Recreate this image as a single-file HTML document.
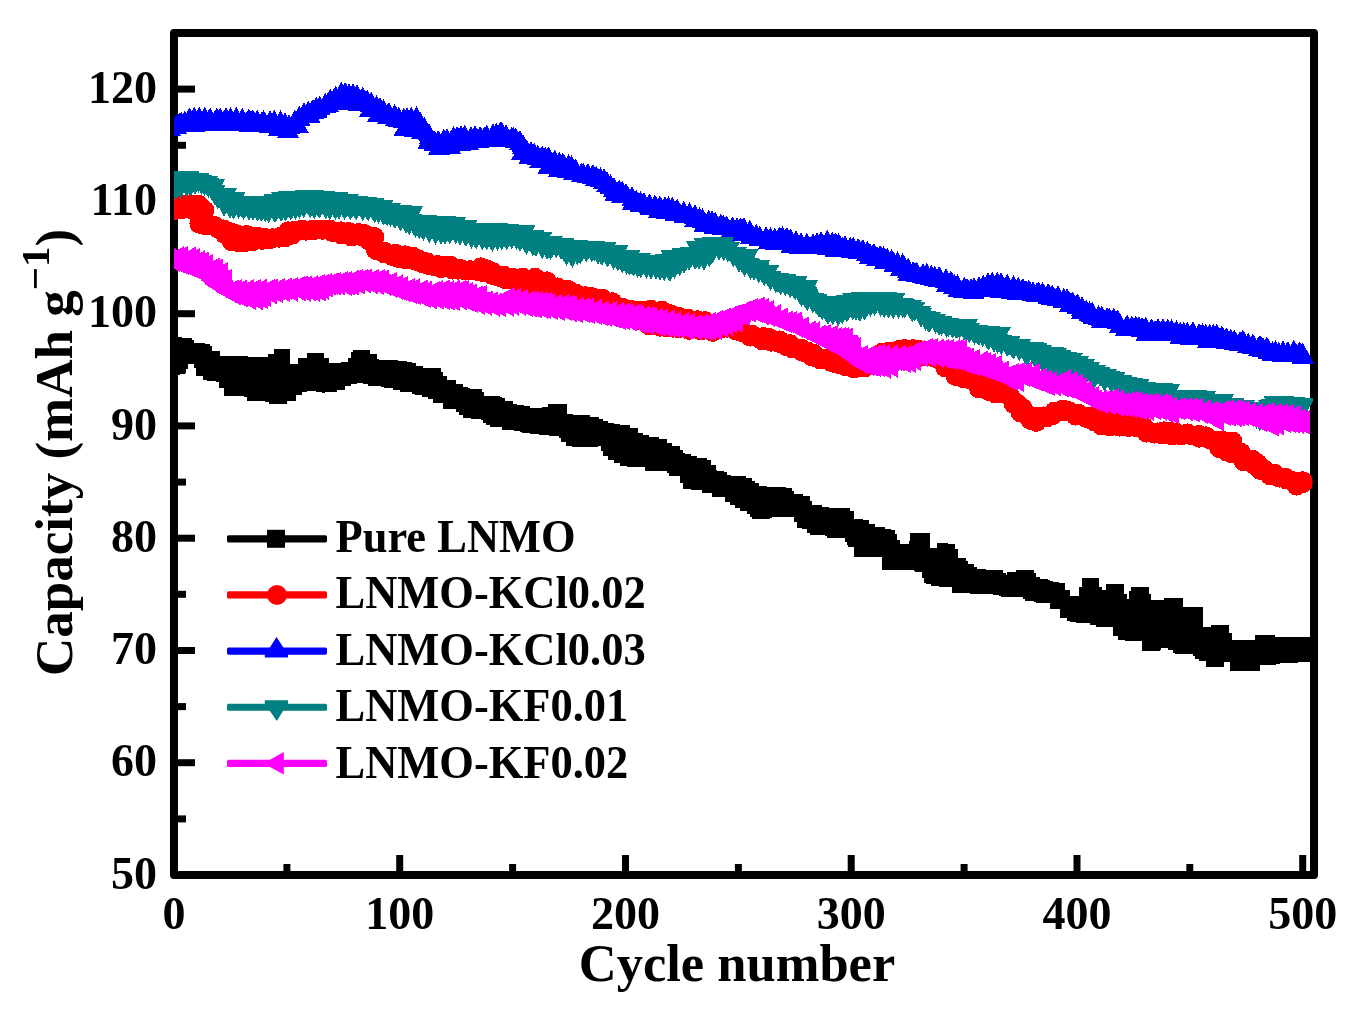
<!DOCTYPE html>
<html><head><meta charset="utf-8"><style>
html,body{margin:0;padding:0;background:#fff;}
svg{display:block;will-change:transform;}
text{font-family:"Liberation Serif",serif;font-weight:bold;fill:#000;}
</style></head><body>
<svg width="1363" height="1017" viewBox="0 0 1363 1017">
<rect x="0" y="0" width="1363" height="1017" fill="#fff"/>
<rect x="174" y="33" width="1140" height="842" fill="none" stroke="#000" stroke-width="8" stroke-linejoin="round"/>
<g stroke="#000" stroke-width="7" stroke-linecap="butt"><line x1="286.9" y1="874" x2="286.9" y2="864" /><line x1="399.7" y1="874" x2="399.7" y2="855" /><line x1="512.6" y1="874" x2="512.6" y2="864" /><line x1="625.5" y1="874" x2="625.5" y2="855" /><line x1="738.4" y1="874" x2="738.4" y2="864" /><line x1="851.2" y1="874" x2="851.2" y2="855" /><line x1="964.1" y1="874" x2="964.1" y2="864" /><line x1="1077.0" y1="874" x2="1077.0" y2="855" /><line x1="1189.8" y1="874" x2="1189.8" y2="864" /><line x1="1302.7" y1="874" x2="1302.7" y2="855" /><line x1="176" y1="818.9" x2="186" y2="818.9" /><line x1="176" y1="762.7" x2="195" y2="762.7" /><line x1="176" y1="706.6" x2="186" y2="706.6" /><line x1="176" y1="650.5" x2="195" y2="650.5" /><line x1="176" y1="594.3" x2="186" y2="594.3" /><line x1="176" y1="538.2" x2="195" y2="538.2" /><line x1="176" y1="482.1" x2="186" y2="482.1" /><line x1="176" y1="425.9" x2="195" y2="425.9" /><line x1="176" y1="369.8" x2="186" y2="369.8" /><line x1="176" y1="313.7" x2="195" y2="313.7" /><line x1="176" y1="257.5" x2="186" y2="257.5" /><line x1="176" y1="201.4" x2="195" y2="201.4" /><line x1="176" y1="145.3" x2="186" y2="145.3" /><line x1="176" y1="89.1" x2="195" y2="89.1" /></g>
<defs><clipPath id="pc"><rect x="174" y="33" width="1144" height="842"/></clipPath></defs>
<g clip-path="url(#pc)" shape-rendering="crispEdges">
<polygon fill="#000000" points="172.0,336.8 174.4,336.8 174.4,337.1 182.0,337.1 182.0,337.6 192.0,337.6 192.0,340.1 194.2,340.1 194.2,343.1 205.4,343.1 205.4,344.2 209.7,344.2 209.7,345.8 212.2,345.8 212.2,350.8 219.6,350.8 219.6,355.6 231.6,355.6 231.6,355.6 233.9,355.6 233.9,355.6 236.6,355.6 236.6,356.1 248.2,356.1 248.2,356.5 251.5,356.5 251.5,356.9 259.6,356.9 259.6,357.4 268.3,357.4 268.3,354.2 273.5,354.2 273.5,348.9 275.7,348.9 275.7,348.9 283.0,348.9 283.0,348.9 290.0,348.9 290.0,363.5 297.8,363.5 297.8,357.8 306.6,357.8 306.6,353.3 317.0,353.3 317.0,353.3 324.2,353.3 324.2,358.3 328.6,358.3 328.6,363.2 330.0,363.2 330.0,362.9 341.3,362.9 341.3,362.4 348.4,362.4 348.4,358.2 351.3,358.2 351.3,352.1 352.8,352.1 352.8,350.0 364.2,350.0 364.2,350.0 370.4,350.0 370.4,353.9 377.2,353.9 377.2,358.8 379.2,358.8 379.2,360.0 387.1,360.0 387.1,360.0 390.3,360.0 390.3,360.1 392.5,360.1 392.5,360.4 397.8,360.4 397.8,361.2 406.9,361.2 406.9,361.9 412.3,361.9 412.3,363.0 415.6,363.0 415.6,365.7 423.3,365.7 423.3,367.7 427.9,367.7 427.9,367.7 438.0,367.7 438.0,367.7 440.9,367.7 440.9,371.5 443.1,371.5 443.1,376.4 447.1,376.4 447.1,379.6 456.1,379.6 456.1,383.5 463.1,383.5 463.1,386.5 468.1,386.5 468.1,388.1 470.0,388.1 470.0,388.7 474.7,388.7 474.7,388.8 482.0,388.8 482.0,392.3 484.2,392.3 484.2,395.8 491.8,395.8 491.8,396.3 499.8,396.3 499.8,396.6 501.9,396.6 501.9,397.5 504.8,397.5 504.8,400.8 512.9,400.8 512.9,403.6 516.5,403.6 516.5,404.6 522.7,404.6 522.7,405.3 523.9,405.3 523.9,406.0 529.8,406.0 529.8,407.7 541.5,407.7 541.5,406.6 548.1,406.6 548.1,404.4 551.0,404.4 551.0,404.4 562.7,404.4 562.7,404.4 566.8,404.4 566.8,414.4 572.8,414.4 572.8,414.8 583.8,414.8 583.8,415.2 589.5,415.2 589.5,416.8 598.8,416.8 598.8,419.1 603.2,419.1 603.2,420.7 607.9,420.7 607.9,422.9 614.2,422.9 614.2,424.4 619.9,424.4 619.9,424.9 627.8,424.9 627.8,425.2 629.6,425.2 629.6,428.3 637.5,428.3 637.5,432.6 643.0,432.6 643.0,435.0 649.4,435.0 649.4,436.5 651.1,436.5 651.1,437.3 658.7,437.3 658.7,438.6 664.9,438.6 664.9,439.4 667.0,439.4 667.0,442.9 671.5,442.9 671.5,446.2 676.4,446.2 676.4,446.2 680.3,446.2 680.3,449.5 682.5,449.5 682.5,453.1 684.5,453.1 684.5,454.2 691.3,454.2 691.3,455.9 697.3,455.9 697.3,458.0 707.0,458.0 707.0,460.0 711.1,460.0 711.1,464.9 715.5,464.9 715.5,469.5 716.9,469.5 716.9,470.6 724.3,470.6 724.3,472.4 727.0,472.4 727.0,474.6 730.9,474.6 730.9,475.9 737.4,475.9 737.4,475.9 743.6,475.9 743.6,475.9 746.3,475.9 746.3,477.7 752.1,477.7 752.1,480.5 755.1,480.5 755.1,483.2 759.0,483.2 759.0,486.1 767.2,486.1 767.2,486.5 773.0,486.5 773.0,486.8 774.2,486.8 774.2,487.2 785.8,487.2 785.8,487.7 791.9,487.7 791.9,490.7 794.0,490.7 794.0,494.4 802.9,494.4 802.9,496.0 809.5,496.0 809.5,500.6 811.7,500.6 811.7,505.4 822.2,505.4 822.2,507.1 829.3,507.1 829.3,507.8 832.5,507.8 832.5,507.8 838.6,507.8 838.6,507.8 850.4,507.8 850.4,510.5 853.5,510.5 853.5,518.7 862.9,518.7 862.9,520.3 868.9,520.3 868.9,523.6 875.1,523.6 875.1,527.4 884.7,527.4 884.7,529.2 890.9,529.2 890.9,530.4 895.4,530.4 895.4,533.7 897.4,533.7 897.4,539.7 899.8,539.7 899.8,543.5 908.6,543.5 908.6,541.0 909.8,541.0 909.8,533.1 919.2,533.1 919.2,533.1 925.7,533.1 925.7,533.1 929.5,533.1 929.5,547.5 937.2,547.5 937.2,543.3 947.9,543.3 947.9,543.9 954.9,543.9 954.9,548.9 957.5,548.9 957.5,558.1 965.5,558.1 965.5,561.0 968.1,561.0 968.1,563.9 973.8,563.9 973.8,567.2 976.9,567.2 976.9,568.5 980.7,568.5 980.7,568.9 986.0,568.9 986.0,569.6 998.0,569.6 998.0,570.3 1003.3,570.3 1003.3,572.7 1005.5,572.7 1005.5,574.6 1006.7,574.6 1006.7,572.0 1016.1,572.0 1016.1,569.6 1023.7,569.6 1023.7,570.2 1034.1,570.2 1034.1,573.3 1036.3,573.3 1036.3,576.6 1039.9,576.6 1039.9,578.5 1047.9,578.5 1047.9,580.1 1050.0,580.1 1050.0,580.8 1053.1,580.8 1053.1,581.9 1059.1,581.9 1059.1,583.4 1065.2,583.4 1065.2,590.2 1069.7,590.2 1069.7,596.2 1071.8,596.2 1071.8,596.2 1078.5,596.2 1078.5,586.9 1081.8,586.9 1081.8,577.5 1090.5,577.5 1090.5,577.5 1099.4,577.5 1099.4,586.9 1101.6,586.9 1101.6,590.2 1106.0,590.2 1106.0,584.1 1111.7,584.1 1111.7,584.1 1119.5,584.1 1119.5,584.1 1123.6,584.1 1123.6,593.5 1126.9,593.5 1126.9,598.9 1129.2,598.9 1129.2,591.2 1131.3,591.2 1131.3,587.4 1139.7,587.4 1139.7,587.4 1147.5,587.4 1147.5,587.4 1148.9,587.4 1148.9,593.5 1151.2,593.5 1151.2,599.5 1156.6,599.5 1156.6,599.5 1164.4,599.5 1164.4,598.4 1167.8,598.4 1167.8,598.4 1180.0,598.4 1180.0,598.4 1183.1,598.4 1183.1,607.2 1186.2,607.2 1186.2,607.2 1198.7,607.2 1198.7,607.2 1202.9,607.2 1202.9,626.8 1210.6,626.8 1210.6,624.8 1214.8,624.8 1214.8,624.8 1226.3,624.8 1226.3,624.8 1229.3,624.8 1229.3,632.6 1231.5,632.6 1231.5,640.3 1240.7,640.3 1240.7,640.3 1252.2,640.3 1252.2,640.3 1254.7,640.3 1254.7,634.8 1257.3,634.8 1257.3,634.8 1267.4,634.8 1267.4,634.8 1274.5,634.8 1274.5,637.0 1278.7,637.0 1278.7,637.0 1287.8,637.0 1287.8,637.0 1298.6,637.0 1298.6,637.0 1305.4,637.0 1305.4,637.0 1309.7,637.0 1310.0,661.9 1303.8,661.9 1303.8,661.9 1297.6,661.9 1297.6,663.0 1295.8,663.0 1295.8,663.0 1287.8,663.0 1287.8,663.0 1280.0,663.0 1280.0,664.3 1276.1,664.3 1276.1,665.2 1265.8,665.2 1265.8,665.2 1259.8,665.2 1259.8,670.7 1251.7,670.7 1251.7,670.7 1245.9,670.7 1245.9,670.7 1235.6,670.7 1235.6,670.7 1230.4,670.7 1230.4,661.9 1227.0,661.9 1227.0,661.9 1223.8,661.9 1223.8,667.4 1220.0,667.4 1220.0,667.4 1211.9,667.4 1211.9,667.4 1206.2,667.4 1206.2,660.9 1199.4,660.9 1199.4,659.2 1195.2,659.2 1195.2,656.4 1193.0,656.4 1193.0,654.2 1189.9,654.2 1189.9,654.2 1183.2,654.2 1183.2,654.2 1175.4,654.2 1175.4,653.2 1172.9,653.2 1172.9,650.0 1167.7,650.0 1167.7,648.0 1161.4,648.0 1161.4,649.8 1160.0,649.8 1160.0,650.9 1149.3,650.9 1149.3,650.9 1142.3,650.9 1142.3,641.0 1137.3,641.0 1137.3,641.0 1126.6,641.0 1126.6,641.0 1124.7,641.0 1124.7,639.9 1118.1,639.9 1118.1,636.0 1112.6,636.0 1112.6,626.7 1107.5,626.7 1107.5,626.7 1095.9,626.7 1095.9,625.0 1089.5,625.0 1089.5,623.2 1085.9,623.2 1085.9,622.5 1075.6,622.5 1075.6,621.7 1069.8,621.7 1069.8,621.3 1067.4,621.3 1067.4,617.5 1060.0,617.5 1060.0,608.8 1049.8,608.8 1049.8,603.4 1040.2,603.4 1040.2,602.7 1036.3,602.7 1036.3,602.2 1033.7,602.2 1033.7,601.1 1025.3,601.1 1025.3,598.6 1023.1,598.6 1023.1,597.0 1021.6,597.0 1021.6,597.0 1010.5,597.0 1010.5,597.0 1004.5,597.0 1004.5,597.0 1001.1,597.0 1001.1,595.9 998.9,595.9 998.9,594.6 993.1,594.6 993.1,594.3 981.2,594.3 981.2,593.9 973.7,593.9 973.7,593.7 970.3,593.7 970.3,593.4 962.3,593.4 962.3,592.8 952.3,592.8 952.3,586.9 946.4,586.9 946.4,586.5 938.8,586.5 938.8,586.1 932.8,586.1 932.8,585.6 931.1,585.6 931.1,584.3 925.7,584.3 925.7,583.0 924.0,583.0 924.0,577.7 921.8,577.7 921.8,571.6 915.2,571.6 915.2,570.5 913.9,570.5 913.9,570.3 901.2,570.3 901.2,569.9 889.8,569.9 889.8,569.6 884.5,569.6 884.5,569.5 882.2,569.5 882.2,557.3 874.9,557.3 874.9,557.3 868.3,557.3 868.3,557.3 858.5,557.3 858.5,557.3 853.5,557.3 853.5,546.5 848.2,546.5 848.2,545.4 846.9,545.4 846.9,541.9 844.7,541.9 844.7,538.3 836.7,538.3 836.7,537.8 827.1,537.8 827.1,536.4 824.9,536.4 824.9,535.3 814.9,535.3 814.9,535.3 809.5,535.3 809.5,532.5 807.3,532.5 807.3,529.2 802.2,529.2 802.2,528.1 797.4,528.1 797.4,522.1 794.0,522.1 794.0,516.6 791.8,516.6 791.8,516.6 785.5,516.6 785.5,516.6 775.8,516.6 775.8,516.6 772.0,516.6 772.0,517.7 769.8,517.7 769.8,518.8 760.9,518.8 760.9,518.8 754.4,518.8 754.4,518.8 752.2,518.8 752.2,516.6 750.0,516.6 750.0,513.6 747.4,513.6 747.4,511.0 740.4,511.0 740.4,507.6 735.2,507.6 735.2,504.7 730.0,504.7 730.0,501.8 724.6,501.8 724.6,496.9 712.3,496.9 712.3,492.6 702.3,492.6 702.3,490.4 691.1,490.4 691.1,488.8 682.5,488.8 682.5,482.5 679.7,482.5 679.7,476.3 669.2,476.3 669.2,473.0 667.4,473.0 667.4,471.4 664.9,471.4 664.9,470.5 661.5,470.5 661.5,471.0 650.6,471.0 650.6,471.4 645.0,471.4 645.0,467.1 639.1,467.1 639.1,467.1 627.4,467.1 627.4,465.5 619.7,465.5 619.7,462.8 614.2,462.8 614.2,459.7 607.7,459.7 607.7,456.4 603.2,456.4 603.2,450.6 601.0,450.6 601.0,446.3 597.6,446.3 597.6,446.5 587.6,446.5 587.6,446.9 578.9,446.9 578.9,447.2 572.3,447.2 572.3,445.5 566.2,445.5 566.2,442.2 561.3,442.2 561.3,438.1 558.7,438.1 558.7,436.0 548.5,436.0 548.5,435.4 541.5,435.4 541.5,435.0 538.7,435.0 538.7,434.0 529.9,434.0 529.9,432.6 521.7,432.6 521.7,431.8 520.0,431.8 520.0,431.1 514.1,431.1 514.1,429.6 501.9,429.6 501.9,426.9 490.1,426.9 490.1,424.7 486.4,424.7 486.4,422.7 483.4,422.7 483.4,419.9 480.9,419.9 480.9,418.6 478.0,418.6 478.0,418.5 471.4,418.5 471.4,418.3 470.0,418.3 470.0,418.3 463.2,418.3 463.2,415.1 458.6,415.1 458.6,412.2 455.5,412.2 455.5,408.8 442.8,408.8 442.8,403.1 432.7,403.1 432.7,398.8 427.7,398.8 427.7,396.7 422.0,396.7 422.0,395.0 414.5,395.0 414.5,393.7 411.6,393.7 411.6,391.9 400.1,391.9 400.1,389.9 393.1,389.9 393.1,388.4 383.7,388.4 383.7,387.3 380.5,387.3 380.5,386.4 371.4,386.4 371.4,385.5 368.2,385.5 368.2,384.0 362.9,384.0 362.9,383.4 357.4,383.4 357.4,383.9 350.6,383.9 350.6,385.8 345.0,385.8 345.0,389.9 336.7,389.9 336.7,392.4 324.6,392.4 324.6,392.9 322.0,392.9 322.0,392.4 316.2,392.4 316.2,391.3 311.0,391.3 311.0,391.1 306.6,391.1 306.6,391.6 302.2,391.6 302.2,394.5 295.6,394.5 295.6,400.5 286.7,400.5 286.7,404.0 283.5,404.0 283.5,404.0 274.3,404.0 274.3,404.0 269.1,404.0 269.1,402.4 264.7,402.4 264.7,400.7 252.3,400.7 252.3,400.7 247.1,400.7 247.1,397.4 243.8,397.4 243.8,396.3 231.2,396.3 231.2,396.3 224.0,396.3 224.0,388.0 218.5,388.0 218.5,381.8 216.3,381.8 216.3,381.0 206.7,381.0 206.7,380.0 203.0,380.0 203.0,375.9 196.4,375.9 196.4,368.0 194.1,368.0 194.1,364.4 187.6,364.4 187.6,368.8 185.4,368.8 185.4,373.7 179.9,373.7 179.9,374.8 174.4,374.8 174.4,375.4 172.0,375.4"/><path fill="#000000" d=""/>
<polygon fill="#ff0000" points="172,203.4 174,203.4 176,203.3 178,203.1 180,203 182,202.9 184,202.8 186,202.6 188,202.5 190,202.4 192,202.3 194,202.4 196,202.6 198,202.7 200,202.9 202,203 204,203.2 206,203.3 208,212.2 210,221.1 212,222 214,222.8 216,223.6 218,224.5 220,225.3 222,226.1 224,227 226,227.8 228,228.6 230,229.5 232,230.3 234,231.1 236,232 238,232.3 240,232.5 242,232.8 244,233.1 246,233.4 248,233.7 250,233.9 252,234.2 254,234.5 256,234.8 258,235 260,235.3 262,235.6 264,235.9 266,236.2 268,236.4 270,236.7 272,237 274,237.3 276,237.3 278,235.5 280,233.8 282,232 284,230.3 286,229.7 288,229.6 290,229.5 292,229.4 294,229.3 296,229.2 298,229 300,228.9 302,228.8 304,228.7 306,228.6 308,228.5 310,228.4 312,228.3 314,228.2 316,228 318,227.9 320,227.8 322,227.7 324,227.6 326,227.8 328,228 330,228.2 332,228.4 334,228.6 336,228.8 338,229 340,229.2 342,229.4 344,229.6 346,229.8 348,230 350,230.2 352,230.4 354,230.6 356,230.8 358,231 360,231.2 362,231.4 364,231.6 366,231.8 368,232 370,232.7 372,233.5 374,234.3 376,235.1 378,235.9 380,240.9 382,249.7 384,250 386,250.3 388,250.6 390,250.8 392,251.1 394,251.4 396,251.7 398,252 400,252.3 402,252.6 404,252.8 406,253.1 408,253.4 410,253.7 412,254 414,254.7 416,255.5 418,256.3 420,257.1 422,257.9 424,258.7 426,259.5 428,260.3 430,261.1 432,261.9 434,262.7 436,263 438,263.2 440,263.4 442,263.6 444,263.8 446,264 448,264.2 450,264.4 452,264.6 454,264.8 456,265 458,265.6 460,266.2 462,266.9 464,267.5 466,268.2 468,268.8 470,269.4 472,268.4 474,267.4 476,266.3 478,265.3 480,264.2 482,263.2 484,264.4 486,265.6 488,266.8 490,268 492,269.2 494,270.1 496,270.7 498,271.3 500,271.9 502,272.5 504,273.1 506,273.7 508,274.3 510,274.9 512,275.5 514,276.1 516,276.3 518,276.2 520,276 522,275.9 524,275.8 526,275.6 528,275.5 530,275.3 532,275.6 534,276 536,276.3 538,276.7 540,277.1 542,277.5 544,277.8 546,278.2 548,278.6 550,280 552,281.5 554,283 556,284.5 558,285.4 560,285.7 562,286.1 564,286.4 566,286.7 568,287.1 570,287.4 572,288.5 574,289.7 576,290.9 578,292.1 580,293.3 582,294.1 584,294.3 586,294.5 588,294.7 590,294.9 592,295.1 594,295.3 596,295.5 598,295.7 600,295.9 602,296.1 604,296.6 606,297.4 608,298.2 610,299 612,299.8 614,300.6 616,301.5 618,302.5 620,303.5 622,304.5 624,305.5 626,306.4 628,307 630,307.6 632,308.2 634,308.8 636,309.4 638,309.3 640,309.2 642,309 644,308.9 646,308.7 648,308.6 650,308.5 652,308.3 654,308.3 656,308.3 658,308.3 660,308.3 662,308.3 664,308.8 666,309.6 668,310.3 670,311.1 672,311.8 674,312.6 676,313.3 678,314.1 680,314.8 682,315.3 684,315.7 686,316.1 688,316.5 690,316.9 692,317.3 694,317.6 696,317.9 698,318.2 700,318.5 702,318.8 704,319.1 706,319.4 708,319.7 710,320 712,320.3 714,320.7 716,321.3 718,322 720,322.6 722,323.2 724,323.9 726,324.5 728,325.1 730,325.8 732,326.4 734,327.1 736,327.7 738,328.3 740,329 742,329.6 744,330.3 746,330.9 748,331.5 750,332.2 752,332.6 754,333 756,333.4 758,333.8 760,334.2 762,334.6 764,335 766,335.4 768,335.8 770,336.2 772,336.6 774,337 776,337.4 778,337.8 780,338.2 782,338.6 784,339.2 786,340 788,340.8 790,341.6 792,342.4 794,343.2 796,344 798,344.8 800,345.6 802,346.4 804,347.2 806,348 808,348.8 810,349.6 812,350.4 814,351.2 816,352 818,352.9 820,353.8 822,354.7 824,355.6 826,356.5 828,357.4 830,358.3 832,359.2 834,360.1 836,361 838,361.9 840,362.4 842,362.9 844,363.4 846,363.9 848,364.4 850,364.9 852,365.4 854,365.9 856,366.4 858,366.9 860,367.2 862,365.4 864,363.2 866,361.1 868,358.9 870,356.7 872,354.6 874,353 876,352.5 878,352.1 880,351.6 882,351.2 884,350.7 886,350.3 888,349.8 890,349.4 892,349 894,348.5 896,348.1 898,347.7 900,347.3 902,347.3 904,347.4 906,347.4 908,347.5 910,347.5 912,347.6 914,347.6 916,347.7 918,347.7 920,347.8 922,347.8 924,348 926,348.8 928,349.5 930,350.2 932,351 934,351.8 936,352.5 938,353.2 940,354 942,354.8 944,355.5 946,356.2 948,357.1 950,358.1 952,359.1 954,360.1 956,361.1 958,362.1 960,363.1 962,364.1 964,365.1 966,366.1 968,367.1 970,368.1 972,369.1 974,370.1 976,371.1 978,372.1 980,373.1 982,374.1 984,375.1 986,376.1 988,377.1 990,378.1 992,379.1 994,380.1 996,381.6 998,383.3 1000,385 1002,386.6 1004,388.3 1006,390 1008,391.6 1010,393.3 1012,395 1014,396.6 1016,398.3 1018,400 1020,401.6 1022,403.3 1024,405 1026,406.6 1028,408.3 1030,410 1032,412 1034,414 1036,415.7 1038,415.4 1040,415.2 1042,414.9 1044,414.7 1046,413.8 1048,412.2 1050,410.6 1052,409.6 1054,409.2 1056,408.8 1058,408.4 1060,408 1062,407.7 1064,407.8 1066,408.2 1068,408.6 1070,409 1072,409.4 1074,409.8 1076,410.6 1078,411.4 1080,412.2 1082,413 1084,413.8 1086,414.7 1088,415.7 1090,416.7 1092,417.7 1094,418.4 1096,418.9 1098,419.5 1100,420.1 1102,420.7 1104,421.3 1106,421.9 1108,422.3 1110,422.4 1112,422.5 1114,422.6 1116,422.7 1118,422.8 1120,423.2 1122,423.5 1124,423.9 1126,424.2 1128,424.6 1130,424.9 1132,425.2 1134,425.2 1136,425.2 1138,425.2 1140,425.2 1142,426.4 1144,427.6 1146,428.9 1148,430.1 1150,431.4 1152,431.1 1154,430.8 1156,430.5 1158,430.2 1160,429.9 1162,429.6 1164,429.6 1166,429.8 1168,430 1170,430.2 1172,430.3 1174,430.5 1176,430.7 1178,430.9 1180,431 1182,431.2 1184,431.4 1186,431.7 1188,431.9 1190,432.2 1192,432.4 1194,432.7 1196,432.9 1198,433.2 1200,433.5 1202,433.7 1204,434 1206,434.3 1208,434.5 1210,434.8 1212,435.1 1214,435.8 1216,436.7 1218,437.6 1220,438.5 1222,439.4 1224,440.1 1226,440 1228,439.9 1230,439.8 1232,439.7 1234,439.6 1236,439.5 1238,442.1 1240,448.9 1242,449.9 1244,450.9 1246,451.9 1248,452.9 1250,454 1252,455.6 1254,457.2 1256,458.8 1258,460.4 1260,462 1262,463.6 1264,465.2 1266,466.8 1268,468.4 1270,469 1272,469.2 1274,470.4 1276,471.7 1278,472.9 1280,474.2 1282,475.5 1284,476.6 1286,477.2 1288,477.8 1290,478.4 1292,479 1294,479.6 1296,479.7 1298,479.7 1300,479.7 1300,487.5 1298,488.5 1296,489.5 1294,490 1292,488 1290,486 1288,484 1286,482 1284,480 1282,479 1280,478.6 1278,478.2 1276,477.8 1274,477.4 1272,477.1 1270,476.9 1268,476.7 1266,476.5 1264,476.3 1262,476.1 1260,474.7 1258,472.7 1256,470.7 1254,468.7 1252,466.7 1250,464.9 1248,464.5 1246,464.1 1244,463.7 1242,463.3 1240,462.9 1238,461.9 1236,460.5 1234,459.1 1232,457.7 1230,456.2 1228,454.9 1226,453.9 1224,452.9 1222,451.9 1220,450.9 1218,450.2 1216,449.5 1214,448.8 1212,447.9 1210,445.5 1208,443.1 1206,440.8 1204,440.4 1202,440 1200,439.6 1198,439.2 1196,438.8 1194,438.4 1192,438 1190,437.6 1188,437.2 1186,437.1 1184,437.1 1182,437.1 1180,437.1 1178,437.1 1176,437.1 1174,437.1 1172,437.1 1170,436.9 1168,436.7 1166,436.4 1164,436.2 1162,436 1160,435.7 1158,435.5 1156,435.3 1154,435 1152,434.8 1150,434.6 1148,433.3 1146,432 1144,430.7 1142,429.4 1140,428.1 1138,427.4 1136,426.7 1134,426 1132,425.3 1130,424.9 1128,424.6 1126,424.2 1124,423.9 1122,423.5 1120,423.2 1118,422.8 1116,422.7 1114,422.6 1112,422.5 1110,422.4 1108,422.3 1106,421.9 1104,421.3 1102,420.7 1100,420.1 1098,419.5 1096,418.9 1094,418.4 1092,418.2 1090,418.2 1088,418.2 1086,418.2 1084,418.2 1082,418.2 1080,418.2 1078,418.2 1076,418.2 1074,418.2 1072,417 1070,415.8 1068,414.6 1066,413.4 1064,412.2 1062,412.5 1060,414.2 1058,415.3 1056,416.4 1054,417.4 1052,418.2 1050,418.8 1048,419.4 1046,420.1 1044,420.7 1042,421.8 1040,423 1038,424.1 1036,425.2 1034,424.6 1032,423.6 1030,422.6 1028,421.6 1026,420.2 1024,418.7 1022,417.2 1020,415.7 1018,414.2 1016,411.7 1014,409.2 1012,406.7 1010,404.2 1008,401.1 1006,396.5 1004,394.2 1002,394.4 1000,394.6 998,394.8 996,395 994,395.2 992,395.3 990,394.3 988,393.3 986,392.3 984,391.3 982,390.5 980,390.3 978,390 976,389.8 974,389.5 972,386.7 970,382.1 968,380.9 966,380.6 964,380.3 962,380 960,379.7 958,379.4 956,379.1 954,378.6 952,377.1 950,375.6 948,374.1 946,372.6 944,370.7 942,368.2 940,365.7 938,363.2 936,360.7 934,359.5 932,358.8 930,358.1 928,357.7 926,358.3 924,358.5 922,358.8 920,359.1 918,359.3 916,359.6 914,359.9 912,360.1 910,360.4 908,360.7 906,360.9 904,361.2 902,361.5 900,361.7 898,362 896,362.3 894,362.5 892,362.9 890,363.4 888,363.9 886,364.4 884,364.9 882,365.4 880,365.9 878,366.4 876,366.9 874,367.4 872,367.9 870,368 868,367.8 866,367.6 864,367.4 862,367.2 860,367.2 858,366.9 856,366.8 854,366.7 852,366.6 850,366.5 848,366.4 846,366.3 844,366.2 842,366.1 840,366 838,365.9 836,365.4 834,364.9 832,364.4 830,363.9 828,363.4 826,362.9 824,362.4 822,361.9 820,361.4 818,360.9 816,360.4 814,359.6 812,358.8 810,358 808,357.2 806,356.4 804,355.6 802,354.8 800,354 798,353.2 796,352.4 794,351.6 792,350.8 790,350 788,349.2 786,348.4 784,347.6 782,346.8 780,346 778,345.2 776,344.4 774,343.6 772,342.8 770,342.8 768,342.7 766,342.7 764,342.6 762,342.5 760,342.5 758,341.9 756,341.2 754,340.6 752,339.9 750,339.3 748,338.6 746,337.8 744,336.2 742,334.6 740,333 738,331.4 736,329.8 734,329.3 732,329.3 730,329.3 728,329.3 726,329.3 724,329.5 722,330.7 720,332 718,333.2 716,334.5 714,334.5 712,334.2 710,333.9 708,333.5 706,333.2 704,332.9 702,332.6 700,332.4 698,332.2 696,332 694,331.8 692,331.6 690,331.4 688,331.2 686,331 684,330.8 682,330.6 680,330.4 678,330.2 676,330 674,329.8 672,329.6 670,329.4 668,329.2 666,329 664,328.8 662,328.6 660,328.4 658,328.2 656,328 654,327.8 652,327.6 650,327.4 648,327.2 646,326.6 644,325.8 642,325 640,324.2 638,323.4 636,322.6 634,321.8 632,321 630,320.2 628,319.4 626,318.6 624,317.9 622,317.2 620,316.5 618,315.9 616,315.2 614,314.5 612,313.9 610,313.2 608,312.5 606,311.9 604,311.2 602,310.5 600,309.9 598,309.2 596,308.5 594,307.9 592,307.2 590,306.6 588,306 586,305.4 584,304.8 582,304.2 580,303.6 578,303 576,302.4 574,301.8 572,301.2 570,300.6 568,300 566,299.4 564,298.8 562,298.2 560,297.6 558,297 556,296.4 554,295.8 552,295.2 550,294.6 548,294 546,293.4 544,292.8 542,292.2 540,291.6 538,291 536,290.4 534,289.8 532,289.2 530,288.6 528,288 526,287.4 524,286.8 522,286.2 520,285.6 518,285 516,284.4 514,283.8 512,283.2 510,282.6 508,282 506,281.4 504,280.8 502,280.2 500,279.7 498,279.1 496,278.6 494,278 492,277.4 490,276.9 488,276.3 486,275.8 484,275.2 482,274.6 480,274.1 478,273.5 476,272.9 474,272.4 472,271.8 470,271.3 468,271.3 466,271.3 464,271.3 462,271.3 460,271.3 458,271.3 456,271.2 454,271 452,270.8 450,270.6 448,270.4 446,270.2 444,270 442,269.8 440,269.6 438,269.4 436,269.2 434,269 432,268.4 430,267.8 428,267.2 426,266.6 424,266 422,265.4 420,264.8 418,264.2 416,263.6 414,263 412,262.4 410,262 408,261.6 406,261.2 404,260.8 402,260.4 400,260 398,259.6 396,259.2 394,258.8 392,258.4 390,257.9 388,257.2 386,256.4 384,255.7 382,254.9 380,254.2 378,253.4 376,252.7 374,251.9 372,250.5 370,247.5 368,244.5 366,241.5 364,238.5 362,238.2 360,238.2 358,238.2 356,238.2 354,238.2 352,238.2 350,238.2 348,238.2 346,238.2 344,237.6 342,237 340,236.4 338,235.8 336,235.2 334,234.6 332,234 330,233.4 328,232.8 326,232.2 324,231.6 322,231.6 320,231.6 318,231.6 316,231.6 314,231.6 312,231.6 310,231.6 308,231.6 306,231.6 304,231.6 302,231.7 300,232.9 298,234.1 296,235.3 294,236.5 292,237.7 290,238.3 288,238.5 286,238.7 284,238.9 282,239.1 280,239.3 278,239.5 276,239.7 274,239.9 272,240.1 270,240.3 268,240.7 266,241.1 264,241.5 262,241.9 260,242.3 258,242.7 256,243.1 254,243.5 252,243.9 250,244.3 248,244.7 246,244.7 244,244.5 242,244.3 240,244 238,243.8 236,243.6 234,243.4 232,243.2 230,242.9 228,242.7 226,240.9 224,238.1 222,235.4 220,232.6 218,230.4 216,229.9 214,229.4 212,228.9 210,228.4 208,227.9 206,227.4 204,226.9 202,226.4 200,225.9 198,225.4 196,223.5 194,216.5 192,209.6 190,209.8 188,210.1 186,210.3 184,210.6 182,210.8 180,211.1 178,211.3 176,211.6 174,211.8 172,211.8"/><path fill="#ff0000" d="M160 205.1a10 10 0 1 0 20 0a10 10 0 1 0 -20 0zM166.5 205.2a10 10 0 1 0 20 0a10 10 0 1 0 -20 0zM173.2 204.8a10 10 0 1 0 20 0a10 10 0 1 0 -20 0zM180.5 204.2a10 10 0 1 0 20 0a10 10 0 1 0 -20 0zM188.7 204.9a10 10 0 1 0 20 0a10 10 0 1 0 -20 0zM194.3 210.2a10 10 0 1 0 20 0a10 10 0 1 0 -20 0zM204.6 226a10 10 0 1 0 20 0a10 10 0 1 0 -20 0zM213.6 229.4a10 10 0 1 0 20 0a10 10 0 1 0 -20 0zM220.7 232.2a10 10 0 1 0 20 0a10 10 0 1 0 -20 0zM226.3 234.2a10 10 0 1 0 20 0a10 10 0 1 0 -20 0zM236.6 235a10 10 0 1 0 20 0a10 10 0 1 0 -20 0zM242.5 236.6a10 10 0 1 0 20 0a10 10 0 1 0 -20 0zM248.5 237.1a10 10 0 1 0 20 0a10 10 0 1 0 -20 0zM254.4 237.7a10 10 0 1 0 20 0a10 10 0 1 0 -20 0zM260 239.1a10 10 0 1 0 20 0a10 10 0 1 0 -20 0zM271.3 236.4a10 10 0 1 0 20 0a10 10 0 1 0 -20 0zM278.2 231.3a10 10 0 1 0 20 0a10 10 0 1 0 -20 0zM285.3 230.5a10 10 0 1 0 20 0a10 10 0 1 0 -20 0zM296.2 230.7a10 10 0 1 0 20 0a10 10 0 1 0 -20 0zM305.5 229.8a10 10 0 1 0 20 0a10 10 0 1 0 -20 0zM311.8 229.7a10 10 0 1 0 20 0a10 10 0 1 0 -20 0zM319.9 229.7a10 10 0 1 0 20 0a10 10 0 1 0 -20 0zM331 231.4a10 10 0 1 0 20 0a10 10 0 1 0 -20 0zM338.7 232a10 10 0 1 0 20 0a10 10 0 1 0 -20 0zM348.6 233a10 10 0 1 0 20 0a10 10 0 1 0 -20 0zM354.3 233.9a10 10 0 1 0 20 0a10 10 0 1 0 -20 0zM364.4 237.1a10 10 0 1 0 20 0a10 10 0 1 0 -20 0zM374.9 251.9a10 10 0 1 0 20 0a10 10 0 1 0 -20 0zM385.6 253.8a10 10 0 1 0 20 0a10 10 0 1 0 -20 0zM395.4 255.3a10 10 0 1 0 20 0a10 10 0 1 0 -20 0zM402.9 256.8a10 10 0 1 0 20 0a10 10 0 1 0 -20 0zM408.4 259.3a10 10 0 1 0 20 0a10 10 0 1 0 -20 0zM417 262.3a10 10 0 1 0 20 0a10 10 0 1 0 -20 0zM427.3 265a10 10 0 1 0 20 0a10 10 0 1 0 -20 0zM433.7 265.8a10 10 0 1 0 20 0a10 10 0 1 0 -20 0zM440.5 265.8a10 10 0 1 0 20 0a10 10 0 1 0 -20 0zM449.3 268.7a10 10 0 1 0 20 0a10 10 0 1 0 -20 0zM459.5 270.3a10 10 0 1 0 20 0a10 10 0 1 0 -20 0zM470.8 267.3a10 10 0 1 0 20 0a10 10 0 1 0 -20 0zM476.7 269.2a10 10 0 1 0 20 0a10 10 0 1 0 -20 0zM483 272.1a10 10 0 1 0 20 0a10 10 0 1 0 -20 0zM493.6 275.6a10 10 0 1 0 20 0a10 10 0 1 0 -20 0zM503.1 277.9a10 10 0 1 0 20 0a10 10 0 1 0 -20 0zM513.1 277.8a10 10 0 1 0 20 0a10 10 0 1 0 -20 0zM525.1 277.8a10 10 0 1 0 20 0a10 10 0 1 0 -20 0zM536.7 281.3a10 10 0 1 0 20 0a10 10 0 1 0 -20 0zM547.6 287.4a10 10 0 1 0 20 0a10 10 0 1 0 -20 0zM558 289.9a10 10 0 1 0 20 0a10 10 0 1 0 -20 0zM565.8 293.6a10 10 0 1 0 20 0a10 10 0 1 0 -20 0zM575.3 296.2a10 10 0 1 0 20 0a10 10 0 1 0 -20 0zM581.6 297a10 10 0 1 0 20 0a10 10 0 1 0 -20 0zM591.9 298.5a10 10 0 1 0 20 0a10 10 0 1 0 -20 0zM602.2 302.2a10 10 0 1 0 20 0a10 10 0 1 0 -20 0zM612.2 307.7a10 10 0 1 0 20 0a10 10 0 1 0 -20 0zM620.3 309.8a10 10 0 1 0 20 0a10 10 0 1 0 -20 0zM628 310.5a10 10 0 1 0 20 0a10 10 0 1 0 -20 0zM635.9 310.8a10 10 0 1 0 20 0a10 10 0 1 0 -20 0zM641.2 309.8a10 10 0 1 0 20 0a10 10 0 1 0 -20 0zM652.1 310.7a10 10 0 1 0 20 0a10 10 0 1 0 -20 0zM660.9 314.3a10 10 0 1 0 20 0a10 10 0 1 0 -20 0zM668.6 316.9a10 10 0 1 0 20 0a10 10 0 1 0 -20 0zM677.4 318.5a10 10 0 1 0 20 0a10 10 0 1 0 -20 0zM687.5 320.3a10 10 0 1 0 20 0a10 10 0 1 0 -20 0zM695.1 321.1a10 10 0 1 0 20 0a10 10 0 1 0 -20 0zM706 323.9a10 10 0 1 0 20 0a10 10 0 1 0 -20 0zM717.4 327.7a10 10 0 1 0 20 0a10 10 0 1 0 -20 0zM725.1 330a10 10 0 1 0 20 0a10 10 0 1 0 -20 0zM731.1 331.9a10 10 0 1 0 20 0a10 10 0 1 0 -20 0zM741.4 334.5a10 10 0 1 0 20 0a10 10 0 1 0 -20 0zM753.3 337a10 10 0 1 0 20 0a10 10 0 1 0 -20 0zM759.4 338a10 10 0 1 0 20 0a10 10 0 1 0 -20 0zM769.4 340.4a10 10 0 1 0 20 0a10 10 0 1 0 -20 0zM780.1 344.2a10 10 0 1 0 20 0a10 10 0 1 0 -20 0zM791.6 348.9a10 10 0 1 0 20 0a10 10 0 1 0 -20 0zM797.4 351.5a10 10 0 1 0 20 0a10 10 0 1 0 -20 0zM803.1 353.5a10 10 0 1 0 20 0a10 10 0 1 0 -20 0zM815 358.7a10 10 0 1 0 20 0a10 10 0 1 0 -20 0zM820.8 361.8a10 10 0 1 0 20 0a10 10 0 1 0 -20 0zM827.1 363.8a10 10 0 1 0 20 0a10 10 0 1 0 -20 0zM836.1 366.5a10 10 0 1 0 20 0a10 10 0 1 0 -20 0zM844.2 368.5a10 10 0 1 0 20 0a10 10 0 1 0 -20 0zM854.5 367.4a10 10 0 1 0 20 0a10 10 0 1 0 -20 0zM860.8 360.8a10 10 0 1 0 20 0a10 10 0 1 0 -20 0zM872.2 352.8a10 10 0 1 0 20 0a10 10 0 1 0 -20 0zM878.7 351.7a10 10 0 1 0 20 0a10 10 0 1 0 -20 0zM889.1 349.9a10 10 0 1 0 20 0a10 10 0 1 0 -20 0zM894.6 349a10 10 0 1 0 20 0a10 10 0 1 0 -20 0zM902.9 349.2a10 10 0 1 0 20 0a10 10 0 1 0 -20 0zM908.1 349.5a10 10 0 1 0 20 0a10 10 0 1 0 -20 0zM915.3 351.3a10 10 0 1 0 20 0a10 10 0 1 0 -20 0zM922.5 353.9a10 10 0 1 0 20 0a10 10 0 1 0 -20 0zM932.5 357.5a10 10 0 1 0 20 0a10 10 0 1 0 -20 0zM940.7 361.1a10 10 0 1 0 20 0a10 10 0 1 0 -20 0zM946.1 364a10 10 0 1 0 20 0a10 10 0 1 0 -20 0zM958.1 369.9a10 10 0 1 0 20 0a10 10 0 1 0 -20 0zM969.3 375.7a10 10 0 1 0 20 0a10 10 0 1 0 -20 0zM980.7 382a10 10 0 1 0 20 0a10 10 0 1 0 -20 0zM987.4 386.7a10 10 0 1 0 20 0a10 10 0 1 0 -20 0zM995.2 393.3a10 10 0 1 0 20 0a10 10 0 1 0 -20 0zM1001.8 398.7a10 10 0 1 0 20 0a10 10 0 1 0 -20 0zM1007.7 403.8a10 10 0 1 0 20 0a10 10 0 1 0 -20 0zM1012.9 408.5a10 10 0 1 0 20 0a10 10 0 1 0 -20 0zM1021.4 416.3a10 10 0 1 0 20 0a10 10 0 1 0 -20 0zM1027.3 416.9a10 10 0 1 0 20 0a10 10 0 1 0 -20 0zM1033.5 416.4a10 10 0 1 0 20 0a10 10 0 1 0 -20 0zM1044.5 411.6a10 10 0 1 0 20 0a10 10 0 1 0 -20 0zM1052.9 409.7a10 10 0 1 0 20 0a10 10 0 1 0 -20 0zM1059.2 411.1a10 10 0 1 0 20 0a10 10 0 1 0 -20 0zM1068.9 414a10 10 0 1 0 20 0a10 10 0 1 0 -20 0zM1075.8 417.9a10 10 0 1 0 20 0a10 10 0 1 0 -20 0zM1084.5 421.7a10 10 0 1 0 20 0a10 10 0 1 0 -20 0zM1091.4 425.4a10 10 0 1 0 20 0a10 10 0 1 0 -20 0zM1100.1 426.4a10 10 0 1 0 20 0a10 10 0 1 0 -20 0zM1109.5 426.6a10 10 0 1 0 20 0a10 10 0 1 0 -20 0zM1118.2 427a10 10 0 1 0 20 0a10 10 0 1 0 -20 0zM1126 427a10 10 0 1 0 20 0a10 10 0 1 0 -20 0zM1136.5 432.5a10 10 0 1 0 20 0a10 10 0 1 0 -20 0zM1147.6 432.4a10 10 0 1 0 20 0a10 10 0 1 0 -20 0zM1153.9 431.3a10 10 0 1 0 20 0a10 10 0 1 0 -20 0zM1159.8 431.8a10 10 0 1 0 20 0a10 10 0 1 0 -20 0zM1165.6 432.5a10 10 0 1 0 20 0a10 10 0 1 0 -20 0zM1177.5 433.4a10 10 0 1 0 20 0a10 10 0 1 0 -20 0zM1189.1 435a10 10 0 1 0 20 0a10 10 0 1 0 -20 0zM1195.7 436.3a10 10 0 1 0 20 0a10 10 0 1 0 -20 0zM1207.5 440.5a10 10 0 1 0 20 0a10 10 0 1 0 -20 0zM1213.9 441.1a10 10 0 1 0 20 0a10 10 0 1 0 -20 0zM1222.5 441.6a10 10 0 1 0 20 0a10 10 0 1 0 -20 0zM1231 452.7a10 10 0 1 0 20 0a10 10 0 1 0 -20 0zM1242.4 459.7a10 10 0 1 0 20 0a10 10 0 1 0 -20 0zM1247.6 463.6a10 10 0 1 0 20 0a10 10 0 1 0 -20 0zM1254.9 470a10 10 0 1 0 20 0a10 10 0 1 0 -20 0zM1264.1 473.6a10 10 0 1 0 20 0a10 10 0 1 0 -20 0zM1269.5 477.5a10 10 0 1 0 20 0a10 10 0 1 0 -20 0zM1276.2 479.5a10 10 0 1 0 20 0a10 10 0 1 0 -20 0zM1284.4 481.3a10 10 0 1 0 20 0a10 10 0 1 0 -20 0zM1292.6 481.2a10 10 0 1 0 20 0a10 10 0 1 0 -20 0zM163 210.3a10 10 0 1 0 20 0a10 10 0 1 0 -20 0zM171.3 209.2a10 10 0 1 0 20 0a10 10 0 1 0 -20 0zM180 208.8a10 10 0 1 0 20 0a10 10 0 1 0 -20 0zM189.4 223.8a10 10 0 1 0 20 0a10 10 0 1 0 -20 0zM195.8 225.3a10 10 0 1 0 20 0a10 10 0 1 0 -20 0zM207.6 228.4a10 10 0 1 0 20 0a10 10 0 1 0 -20 0zM214.6 233.8a10 10 0 1 0 20 0a10 10 0 1 0 -20 0zM221.7 241.3a10 10 0 1 0 20 0a10 10 0 1 0 -20 0zM228.5 242.3a10 10 0 1 0 20 0a10 10 0 1 0 -20 0zM234 242.4a10 10 0 1 0 20 0a10 10 0 1 0 -20 0zM242 241.3a10 10 0 1 0 20 0a10 10 0 1 0 -20 0zM252.4 239.9a10 10 0 1 0 20 0a10 10 0 1 0 -20 0zM262.3 238.2a10 10 0 1 0 20 0a10 10 0 1 0 -20 0zM268.7 237.7a10 10 0 1 0 20 0a10 10 0 1 0 -20 0zM274.7 237.5a10 10 0 1 0 20 0a10 10 0 1 0 -20 0zM281.9 234.8a10 10 0 1 0 20 0a10 10 0 1 0 -20 0zM292.3 229.7a10 10 0 1 0 20 0a10 10 0 1 0 -20 0zM300.7 230.1a10 10 0 1 0 20 0a10 10 0 1 0 -20 0zM312.2 229.8a10 10 0 1 0 20 0a10 10 0 1 0 -20 0zM321.8 231.9a10 10 0 1 0 20 0a10 10 0 1 0 -20 0zM331.1 234.2a10 10 0 1 0 20 0a10 10 0 1 0 -20 0zM341.5 236.4a10 10 0 1 0 20 0a10 10 0 1 0 -20 0zM351.7 236.4a10 10 0 1 0 20 0a10 10 0 1 0 -20 0zM359.2 240.7a10 10 0 1 0 20 0a10 10 0 1 0 -20 0zM366 250a10 10 0 1 0 20 0a10 10 0 1 0 -20 0zM374 253.2a10 10 0 1 0 20 0a10 10 0 1 0 -20 0zM382.4 256a10 10 0 1 0 20 0a10 10 0 1 0 -20 0zM388.4 258a10 10 0 1 0 20 0a10 10 0 1 0 -20 0zM396.5 259.4a10 10 0 1 0 20 0a10 10 0 1 0 -20 0zM406 260.9a10 10 0 1 0 20 0a10 10 0 1 0 -20 0zM412 263a10 10 0 1 0 20 0a10 10 0 1 0 -20 0zM417.9 264.8a10 10 0 1 0 20 0a10 10 0 1 0 -20 0zM424.1 266.1a10 10 0 1 0 20 0a10 10 0 1 0 -20 0zM431.1 268.1a10 10 0 1 0 20 0a10 10 0 1 0 -20 0zM442.8 269.6a10 10 0 1 0 20 0a10 10 0 1 0 -20 0zM448 269.7a10 10 0 1 0 20 0a10 10 0 1 0 -20 0zM454.3 270.1a10 10 0 1 0 20 0a10 10 0 1 0 -20 0zM460.5 270.2a10 10 0 1 0 20 0a10 10 0 1 0 -20 0zM468.8 271.3a10 10 0 1 0 20 0a10 10 0 1 0 -20 0zM473.9 272.4a10 10 0 1 0 20 0a10 10 0 1 0 -20 0zM482.1 275a10 10 0 1 0 20 0a10 10 0 1 0 -20 0zM488.2 276.7a10 10 0 1 0 20 0a10 10 0 1 0 -20 0zM495.1 279a10 10 0 1 0 20 0a10 10 0 1 0 -20 0zM505.7 281.8a10 10 0 1 0 20 0a10 10 0 1 0 -20 0zM512 283.5a10 10 0 1 0 20 0a10 10 0 1 0 -20 0zM521.3 286.5a10 10 0 1 0 20 0a10 10 0 1 0 -20 0zM529.1 288.6a10 10 0 1 0 20 0a10 10 0 1 0 -20 0zM537.1 291.3a10 10 0 1 0 20 0a10 10 0 1 0 -20 0zM547.8 294.8a10 10 0 1 0 20 0a10 10 0 1 0 -20 0zM553.9 296.3a10 10 0 1 0 20 0a10 10 0 1 0 -20 0zM565.4 299.8a10 10 0 1 0 20 0a10 10 0 1 0 -20 0zM576.6 303.5a10 10 0 1 0 20 0a10 10 0 1 0 -20 0zM586.3 306a10 10 0 1 0 20 0a10 10 0 1 0 -20 0zM591.6 307.6a10 10 0 1 0 20 0a10 10 0 1 0 -20 0zM601.3 311.5a10 10 0 1 0 20 0a10 10 0 1 0 -20 0zM610.5 314.2a10 10 0 1 0 20 0a10 10 0 1 0 -20 0zM620.9 317.6a10 10 0 1 0 20 0a10 10 0 1 0 -20 0zM627.4 320.5a10 10 0 1 0 20 0a10 10 0 1 0 -20 0zM639.1 325.3a10 10 0 1 0 20 0a10 10 0 1 0 -20 0zM650.3 326.7a10 10 0 1 0 20 0a10 10 0 1 0 -20 0zM656.1 327.1a10 10 0 1 0 20 0a10 10 0 1 0 -20 0zM663.3 327.7a10 10 0 1 0 20 0a10 10 0 1 0 -20 0zM668.5 328.3a10 10 0 1 0 20 0a10 10 0 1 0 -20 0zM679.3 329.9a10 10 0 1 0 20 0a10 10 0 1 0 -20 0zM690.7 330.3a10 10 0 1 0 20 0a10 10 0 1 0 -20 0zM702.7 331.9a10 10 0 1 0 20 0a10 10 0 1 0 -20 0zM711.9 328.2a10 10 0 1 0 20 0a10 10 0 1 0 -20 0zM721.6 328a10 10 0 1 0 20 0a10 10 0 1 0 -20 0zM731.3 330.5a10 10 0 1 0 20 0a10 10 0 1 0 -20 0zM740.3 336.6a10 10 0 1 0 20 0a10 10 0 1 0 -20 0zM752 340.3a10 10 0 1 0 20 0a10 10 0 1 0 -20 0zM761.3 341.7a10 10 0 1 0 20 0a10 10 0 1 0 -20 0zM768.6 342.9a10 10 0 1 0 20 0a10 10 0 1 0 -20 0zM777.2 346.5a10 10 0 1 0 20 0a10 10 0 1 0 -20 0zM782.3 348.3a10 10 0 1 0 20 0a10 10 0 1 0 -20 0zM792.4 351.8a10 10 0 1 0 20 0a10 10 0 1 0 -20 0zM802.3 356.6a10 10 0 1 0 20 0a10 10 0 1 0 -20 0zM810.2 359.5a10 10 0 1 0 20 0a10 10 0 1 0 -20 0zM821.2 362a10 10 0 1 0 20 0a10 10 0 1 0 -20 0zM831.5 364.4a10 10 0 1 0 20 0a10 10 0 1 0 -20 0zM838.8 364.6a10 10 0 1 0 20 0a10 10 0 1 0 -20 0zM844.4 365.2a10 10 0 1 0 20 0a10 10 0 1 0 -20 0zM850.3 365.8a10 10 0 1 0 20 0a10 10 0 1 0 -20 0zM856.6 366a10 10 0 1 0 20 0a10 10 0 1 0 -20 0zM863.7 364.8a10 10 0 1 0 20 0a10 10 0 1 0 -20 0zM871.8 363a10 10 0 1 0 20 0a10 10 0 1 0 -20 0zM883.3 361.1a10 10 0 1 0 20 0a10 10 0 1 0 -20 0zM890.3 359.5a10 10 0 1 0 20 0a10 10 0 1 0 -20 0zM901.6 358.5a10 10 0 1 0 20 0a10 10 0 1 0 -20 0zM911.3 356.7a10 10 0 1 0 20 0a10 10 0 1 0 -20 0zM922.3 356.9a10 10 0 1 0 20 0a10 10 0 1 0 -20 0zM930.1 360.2a10 10 0 1 0 20 0a10 10 0 1 0 -20 0zM935.1 367.2a10 10 0 1 0 20 0a10 10 0 1 0 -20 0zM945.7 376.1a10 10 0 1 0 20 0a10 10 0 1 0 -20 0zM952.4 377.9a10 10 0 1 0 20 0a10 10 0 1 0 -20 0zM958.4 379a10 10 0 1 0 20 0a10 10 0 1 0 -20 0zM969 388.6a10 10 0 1 0 20 0a10 10 0 1 0 -20 0zM978.8 391.1a10 10 0 1 0 20 0a10 10 0 1 0 -20 0zM985.3 393.5a10 10 0 1 0 20 0a10 10 0 1 0 -20 0zM992.1 393.4a10 10 0 1 0 20 0a10 10 0 1 0 -20 0zM1003.7 403.9a10 10 0 1 0 20 0a10 10 0 1 0 -20 0zM1010.6 412.6a10 10 0 1 0 20 0a10 10 0 1 0 -20 0zM1020.5 419.9a10 10 0 1 0 20 0a10 10 0 1 0 -20 0zM1026.4 421.9a10 10 0 1 0 20 0a10 10 0 1 0 -20 0zM1037.1 417.2a10 10 0 1 0 20 0a10 10 0 1 0 -20 0zM1042.9 415.1a10 10 0 1 0 20 0a10 10 0 1 0 -20 0zM1051.6 411.5a10 10 0 1 0 20 0a10 10 0 1 0 -20 0zM1056.8 410.7a10 10 0 1 0 20 0a10 10 0 1 0 -20 0zM1065.6 415.6a10 10 0 1 0 20 0a10 10 0 1 0 -20 0zM1076.6 417a10 10 0 1 0 20 0a10 10 0 1 0 -20 0zM1082.2 416.8a10 10 0 1 0 20 0a10 10 0 1 0 -20 0zM1089.1 416.5a10 10 0 1 0 20 0a10 10 0 1 0 -20 0zM1099.4 417.9a10 10 0 1 0 20 0a10 10 0 1 0 -20 0zM1108.7 418.3a10 10 0 1 0 20 0a10 10 0 1 0 -20 0zM1115.9 420.2a10 10 0 1 0 20 0a10 10 0 1 0 -20 0zM1125.3 424.1a10 10 0 1 0 20 0a10 10 0 1 0 -20 0zM1133.5 426.6a10 10 0 1 0 20 0a10 10 0 1 0 -20 0zM1144.5 433.5a10 10 0 1 0 20 0a10 10 0 1 0 -20 0zM1151.6 434.4a10 10 0 1 0 20 0a10 10 0 1 0 -20 0zM1161.9 435.3a10 10 0 1 0 20 0a10 10 0 1 0 -20 0zM1171.3 435.5a10 10 0 1 0 20 0a10 10 0 1 0 -20 0zM1181.5 435.3a10 10 0 1 0 20 0a10 10 0 1 0 -20 0zM1189.1 437.7a10 10 0 1 0 20 0a10 10 0 1 0 -20 0zM1199.2 439.2a10 10 0 1 0 20 0a10 10 0 1 0 -20 0zM1209.1 448.1a10 10 0 1 0 20 0a10 10 0 1 0 -20 0zM1216.8 451.6a10 10 0 1 0 20 0a10 10 0 1 0 -20 0zM1222 453.6a10 10 0 1 0 20 0a10 10 0 1 0 -20 0zM1233.7 461.4a10 10 0 1 0 20 0a10 10 0 1 0 -20 0zM1243.7 464.3a10 10 0 1 0 20 0a10 10 0 1 0 -20 0zM1250.2 470a10 10 0 1 0 20 0a10 10 0 1 0 -20 0zM1260.3 475.5a10 10 0 1 0 20 0a10 10 0 1 0 -20 0zM1267.2 476.4a10 10 0 1 0 20 0a10 10 0 1 0 -20 0zM1275.5 477.8a10 10 0 1 0 20 0a10 10 0 1 0 -20 0zM1286.5 485.7a10 10 0 1 0 20 0a10 10 0 1 0 -20 0zM1292.6 483.2a10 10 0 1 0 20 0a10 10 0 1 0 -20 0z"/>
<polygon fill="#0000ff" points="172,126.1 174,126.1 176,125.3 178,124.3 180,123.3 182,122.3 184,121.3 186,120.3 188,119.3 190,118.3 192,117.3 194,117.4 196,117.5 198,117.6 200,117.7 202,117.8 204,117.9 206,118 208,118.1 210,118.2 212,118.3 214,118.4 216,118.3 218,118.2 220,118.1 222,118 224,117.9 226,117.8 228,117.7 230,117.6 232,117.5 234,117.4 236,117.3 238,117.5 240,117.8 242,118.1 244,118.4 246,118.7 248,119 250,119.3 252,119.6 254,119.9 256,120.2 258,120.5 260,120.6 262,120.6 264,120.6 266,120.6 268,120.6 270,120.6 272,120.6 274,120.6 276,120.6 278,120.6 280,120.6 282,121.5 284,122.5 286,123.5 288,124.5 290,124.1 292,122.4 294,120.8 296,119.1 298,117.4 300,115.8 302,114.1 304,113.1 306,112.2 308,111.3 310,110.4 312,109.5 314,108.6 316,107.7 318,106.8 320,105.9 322,105 324,104.1 326,102.8 328,101.4 330,100 332,98.7 334,97.3 336,95.9 338,94.5 340,93.2 342,92 344,92.3 346,92.7 348,93.1 350,93.5 352,93.8 354,94.2 356,94.6 358,95 360,95.6 362,96.8 364,98 366,99.2 368,100.5 370,101.7 372,102.9 374,104.1 376,105.4 378,106.6 380,107.7 382,108.7 384,109.7 386,110.7 388,111.7 390,112.7 392,113.7 394,114.7 396,115.7 398,116.7 400,117.7 402,118.3 404,118.2 406,118 408,117.9 410,117.7 412,117.6 414,117.4 416,117.3 418,119 420,121.8 422,124.5 424,127.3 426,130 428,132.8 430,135.5 432,138.3 434,141 436,141.1 438,140.6 440,140.1 442,139.6 444,139.1 446,138.6 448,138.1 450,137.6 452,137.1 454,136.8 456,136.6 458,136.3 460,136.1 462,135.9 464,135.6 466,135.4 468,135.1 470,134.9 472,136.3 474,136.3 476,136.3 478,136.3 480,136.3 482,136.3 484,135.9 486,135.5 488,135.1 490,134.7 492,134.3 494,133.8 496,133 498,132.3 500,131.5 502,132 504,133.3 506,134.5 508,135.8 510,137 512,137.8 514,138.3 516,138.8 518,139.3 520,140.4 522,143.4 524,146.4 526,149.4 528,150.5 530,151.5 532,152.5 534,153.5 536,154.5 538,155.2 540,155.6 542,156 544,156.4 546,156.8 548,157.2 550,158 552,158.9 554,159.7 556,160.5 558,161.4 560,162.2 562,162.9 564,163.4 566,163.9 568,164.4 570,164.9 572,166.3 574,167.7 576,169.1 578,170.5 580,171.9 582,172.8 584,173 586,173.2 588,173.4 590,173.6 592,173.8 594,174.7 596,175.7 598,176.7 600,177.7 602,178.7 604,179.9 606,181.5 608,183.1 610,184.7 612,186.3 614,187.9 616,188.8 618,189.6 620,190.4 622,191.2 624,192 626,193.1 628,194.5 630,195.9 632,197.3 634,198.7 636,200.1 638,200.7 640,201.3 642,201.9 644,202.5 646,203.1 648,203.7 650,204.1 652,204.5 654,204.9 656,205.3 658,205.7 660,205.9 662,206.1 664,206.3 666,206.5 668,206.7 670,207 672,207.6 674,208.2 676,208.8 678,209.4 680,210 682,210.6 684,211.2 686,211.8 688,212.4 690,213 692,213.8 694,214.8 696,215.8 698,216.8 700,217.8 702,218.8 704,219.3 706,219.7 708,220.1 710,220.5 712,220.9 714,221.4 716,222.2 718,223 720,223.8 722,224.6 724,225.4 726,225.9 728,226.3 730,226.7 732,227.1 734,227.5 736,227.7 738,227.7 740,227.7 742,227.7 744,227.7 746,227.7 748,228.8 750,230.1 752,231.4 754,232.7 756,234 758,235.3 760,236.6 762,236.4 764,236.8 766,237.2 768,237.6 770,238 772,238.4 774,238 776,237.6 778,237.3 780,236.9 782,236.5 784,236.2 786,237 788,237.9 790,238.8 792,239.6 794,240.5 796,241.1 798,241.7 800,242.3 802,242.9 804,243.5 806,243.8 808,243.6 810,243.4 812,243.2 814,243 816,242.8 818,242.4 820,242 822,241.6 824,241.2 826,240.8 828,240.8 830,241.4 832,242 834,242.6 836,243.2 838,243.8 840,244.4 842,245 844,245.6 846,246.2 848,246.8 850,247.3 852,247.6 854,247.9 856,248.2 858,248.4 860,248.7 862,249 864,249.3 866,250.1 868,251.1 870,252.1 872,253.1 874,253.9 876,254.4 878,254.9 880,255.4 882,255.9 884,256.7 886,257.5 888,258.3 890,259.1 892,259.9 894,260.6 896,261.2 898,261.8 900,262.4 902,263 904,263.6 906,265.8 908,268.1 910,270.5 912,271.7 914,272.1 916,272.5 918,272.9 920,273.4 922,273.8 924,274.2 926,274.7 928,275.1 930,275.5 932,275.9 934,276.3 936,276.7 938,277.1 940,277.5 942,277.9 944,278.3 946,278.7 948,279.1 950,280.5 952,282.1 954,283.7 956,285.3 958,286.9 960,288 962,288.2 964,288.4 966,288.6 968,288.8 970,289 972,288.5 974,287.9 976,287.3 978,286.7 980,286.1 982,285.5 984,284.8 986,284.1 988,283.5 990,282.8 992,282.1 994,281.5 996,281.6 998,282.1 1000,282.5 1002,283 1004,283.4 1006,283.9 1008,284.3 1010,284.8 1012,285.2 1014,285.6 1016,286.3 1018,286.9 1020,287.6 1022,288.3 1024,288.9 1026,289.6 1028,290.2 1030,290.7 1032,291.2 1034,291.7 1036,292.2 1038,292.5 1040,292.6 1042,292.8 1044,292.9 1046,293.1 1048,293.3 1050,293.4 1052,295 1054,295.5 1056,296 1058,296.5 1060,297 1062,297.5 1064,298 1066,298.7 1068,299.5 1070,300.3 1072,301.1 1074,301.9 1076,302.7 1078,304.1 1080,305.6 1082,307.1 1084,308.6 1086,309.9 1088,311.1 1090,312.3 1092,313.5 1094,314.7 1096,315.9 1098,316.2 1100,316.5 1102,316.7 1104,317 1106,317.2 1108,317.5 1110,317.7 1112,318 1114,318.4 1116,320.2 1118,321.9 1120,323.7 1122,325.4 1124,326 1126,326.1 1128,326.2 1130,326.4 1132,326.5 1134,326.6 1136,326.7 1138,326.9 1140,327 1142,327.3 1144,327.6 1146,328 1148,328.3 1150,328.6 1152,329 1154,329.1 1156,328.9 1158,328.6 1160,328.4 1162,328.1 1164,328.5 1166,328.9 1168,329.3 1170,329.7 1172,330.1 1174,330.5 1176,330.9 1178,331.3 1180,331.7 1182,332.1 1184,332.5 1186,332.5 1188,332.5 1190,332.5 1192,332.5 1194,332.5 1196,332.7 1198,333.1 1200,333.5 1202,333.9 1204,334.3 1206,334.7 1208,334.5 1210,334.3 1212,334.1 1214,333.9 1216,333.7 1218,334 1220,335 1222,336 1224,337 1226,338 1228,339 1230,339.5 1232,339.9 1234,340.3 1236,340.7 1238,341.1 1240,341.5 1242,341.9 1244,342.3 1246,342.7 1248,343.1 1250,343.5 1252,344 1254,344.6 1256,345.2 1258,345.8 1260,346.4 1262,347.1 1264,347.9 1266,348.7 1268,349.5 1270,350.3 1272,351.1 1274,351.4 1276,351.6 1278,351.8 1280,352 1282,352.2 1284,352.2 1286,351.8 1288,351.4 1290,351 1292,350.6 1294,350.2 1296,350.7 1298,351.5 1300,352.2 1300,355.4 1298,355.4 1296,355.4 1294,355.4 1292,355.4 1290,355.4 1288,353.1 1286,353 1284,352.8 1282,352.7 1280,352.5 1278,352.4 1276,352.3 1274,352.1 1272,352 1270,351.8 1268,351.7 1266,351.5 1264,351.4 1262,351.3 1260,351.1 1258,347.7 1256,347.5 1254,347.4 1252,347.2 1250,347.1 1248,346.9 1246,346.8 1244,346.7 1242,345 1240,343 1238,342.1 1236,341.9 1234,341.7 1232,341.4 1230,341.2 1228,341 1226,340.8 1224,340.5 1222,340.3 1220,340.1 1218,340 1216,339.9 1214,339.8 1212,339.7 1210,339.6 1208,339.6 1206,339.5 1204,339.4 1202,339.3 1200,339.2 1198,339.1 1196,339.1 1194,339 1192,338.4 1190,337.4 1188,336.7 1186,336.6 1184,336.5 1182,336.4 1180,336.3 1178,336.2 1176,336.1 1174,336 1172,335.9 1170,335.8 1168,335.7 1166,332.3 1164,332.3 1162,332.3 1160,332.3 1158,332.3 1156,332.3 1154,332.3 1152,332.3 1150,332.3 1148,332.3 1146,332.3 1144,332.3 1142,332.3 1140,332.3 1138,332.3 1136,332.3 1134,332.3 1132,327.7 1130,327.4 1128,327.1 1126,326.8 1124,326.5 1122,326.2 1120,325.9 1118,325.6 1116,325.3 1114,325 1112,324.7 1110,322.4 1108,321.2 1106,320.9 1104,320.7 1102,320.5 1100,320.2 1098,320 1096,319.7 1094,319.5 1092,319.3 1090,316.8 1088,314.3 1086,313.8 1084,313.3 1082,312.8 1080,312.3 1078,311.8 1076,311.3 1074,310.8 1072,310.3 1070,309.8 1068,309.3 1066,308.8 1064,308.3 1062,304.2 1060,303.1 1058,302 1056,300.9 1054,299.8 1052,298.7 1050,297.7 1048,297.3 1046,297 1044,296.7 1042,296.4 1040,296 1038,295.7 1036,295.4 1034,295.1 1032,294.7 1030,294.4 1028,294.1 1026,293.7 1024,293.4 1022,293.1 1020,292.7 1018,292.4 1016,292.1 1014,291.8 1012,291.5 1010,291.3 1008,291 1006,290.7 1004,290.4 1002,290.2 1000,289.9 998,289.6 996,289.3 994,289.1 992,289 990,290 988,290.1 986,290.3 984,290.5 982,290.7 980,290.9 978,291 976,291.2 974,291.4 972,291.6 970,291.8 968,292 966,292.1 964,291.4 962,290.7 960,289.9 958,289.2 956,288.4 954,287.7 952,286.9 950,286.2 948,285.5 946,285.2 944,284.8 942,284.5 940,284.2 938,283.8 936,283.5 934,282.6 932,281.1 930,279.6 928,278.1 926,276.7 924,276.3 922,275.8 920,275.4 918,275 916,274.5 914,274.1 912,273.7 910,273.4 908,273.2 906,273 904,272.9 902,272.7 900,272.5 898,272.4 896,271.2 894,269.8 892,268.4 890,267 888,265.6 886,264.4 884,263.5 882,262.7 880,261.9 878,261 876,260.2 874,259.4 872,258.7 870,258.1 868,257.4 866,256.8 864,256.2 862,255.6 860,254.9 858,254.3 856,253.7 854,252.3 852,250.8 850,250.2 848,250 846,249.9 844,249.7 842,249.5 840,249.4 838,249.2 836,249 834,248.9 832,248.7 830,248.5 828,248.4 826,248.2 824,247.9 822,247.5 820,247.1 818,246.7 816,246.3 814,245.9 812,245.9 810,245.9 808,245.9 806,245.9 804,245.9 802,245.9 800,245.9 798,245.9 796,245.9 794,245.9 792,245.9 790,245.9 788,245.5 786,245 784,244.5 782,244 780,243.5 778,243 776,242.5 774,242 772,241.5 770,241.4 768,241.2 766,241.1 764,241 762,240.9 760,240.8 758,240.1 756,239.5 754,238.8 752,238.2 750,237.5 748,236.9 746,236.2 744,235.6 742,234.9 740,234.3 738,233.7 736,233.1 734,232.5 732,232 730,231.4 728,230.8 726,230.2 724,229.7 722,229.1 720,228.5 718,228 716,227.4 714,226.8 712,226.2 710,225.7 708,225.2 706,224.8 704,224.4 702,224.1 700,223.7 698,223.3 696,222.9 694,222.6 692,222.2 690,221.4 688,220.4 686,219.4 684,218.1 682,216.1 680,214.3 678,214.1 676,213.8 674,213.6 672,213.3 670,213.1 668,212.8 666,212.6 664,212.3 662,212.1 660,211.8 658,211.6 656,211.3 654,211.1 652,210.5 650,209.8 648,209.2 646,208.6 644,208 642,207.3 640,206.7 638,206.1 636,205.5 634,204.9 632,204.3 630,203.8 628,203.2 626,202.6 624,202 622,201.5 620,200.3 618,198.3 616,196.3 614,194.5 612,193.8 610,193.1 608,192.5 606,191.8 604,191.1 602,190.5 600,188.2 598,184.2 596,181 594,179.7 592,178.5 590,177.2 588,176 586,175.6 584,175.3 582,175.1 580,174.8 578,174.6 576,174.3 574,174.1 572,173.8 570,173.6 568,173 566,172.4 564,171.8 562,171.3 560,170.7 558,170.1 556,169.6 554,169 552,168.6 550,168.2 548,167.8 546,167.3 544,166.9 542,166.5 540,166 538,165 536,163.7 534,162.4 532,161 530,159.7 528,158.4 526,157.1 524,156.4 522,155.7 520,155.1 518,154.4 516,153.7 514,153.1 512,151.3 510,148 508,144.8 506,141.5 504,138.4 502,138.4 500,138.4 498,138.4 496,138.4 494,138.4 492,138.6 490,139 488,139.4 486,139.8 484,140.2 482,140.6 480,140.9 478,141.2 476,141.5 474,141.8 472,142.1 470,142.4 468,143.1 466,143.7 464,144.3 462,145 460,145.6 458,146.3 456,146.8 454,146.8 452,146.8 450,146.8 448,146.8 446,146.8 444,146.8 442,146.8 440,146.8 438,146.8 436,146.8 434,146.8 432,146.8 430,146.8 428,146.8 426,145.7 424,144.5 422,143.2 420,142 418,139.8 416,136.5 414,133.1 412,130.2 410,129.9 408,129.5 406,129.1 404,128.7 402,128.4 400,128 398,127.6 396,127.2 394,126.2 392,124 390,121.7 388,119.5 386,117.2 384,116.7 382,116.3 380,115.9 378,115.5 376,115.1 374,114.7 372,114.3 370,113.9 368,113.5 366,113.1 364,112.7 362,111 360,109.2 358,107.4 356,105.6 354,103.8 352,102.7 350,102.5 348,102.3 346,102.1 344,101.9 342,101.7 340,102.6 338,103.6 336,104.6 334,105.6 332,106.6 330,107.6 328,108.6 326,109.6 324,110.6 322,112.3 320,114.1 318,115.8 316,117.5 314,119.2 312,120.9 310,122.6 308,124.1 306,125.1 304,126.1 302,127.1 300,128.1 298,129.1 296,129.2 294,129.2 292,129.2 290,129.2 288,129.2 286,129.2 284,129.2 282,129.2 280,129.2 278,129.2 276,129.2 274,128.7 272,128 270,127.4 268,126.8 266,126.2 264,125.5 262,124.9 260,124.3 258,123.7 256,123.6 254,123.6 252,123.5 250,123.4 248,123.4 246,123.3 244,123.2 242,123.2 240,123.1 238,123 236,123 234,122.9 232,122.8 230,122.8 228,122.7 226,122.6 224,122.6 222,122.7 220,122.8 218,122.8 216,122.9 214,123 212,123 210,123.1 208,123.2 206,123.2 204,123.3 202,123.4 200,123.4 198,123.5 196,123.6 194,123.6 192,123.7 190,124.1 188,124.4 186,124.8 184,125.2 182,125.6 180,125.9 178,126.3 176,126.7 174,127 172,127"/><path fill="#0000ff" d="M170 115.9l11 20h-22zM176.2 114.2l11 20h-22zM181.4 111.8l11 20h-22zM184.6 110.7l11 20h-22zM189.6 107.5l11 20h-22zM194.2 106.5l11 20h-22zM199.2 106.8l11 20h-22zM204.7 107l11 20h-22zM210.1 107.5l11 20h-22zM216.6 107.7l11 20h-22zM220.2 107.3l11 20h-22zM226 106.8l11 20h-22zM230.4 107.2l11 20h-22zM236.2 106.9l11 20h-22zM242.3 107.6l11 20h-22zM248.8 108.3l11 20h-22zM252.7 109.2l11 20h-22zM257.3 109.9l11 20h-22zM263.6 109.9l11 20h-22zM269.9 110.3l11 20h-22zM274.2 109.9l11 20h-22zM280.5 110.1l11 20h-22zM284.9 112l11 20h-22zM289.2 114.2l11 20h-22zM294.9 109.6l11 20h-22zM299.5 105.7l11 20h-22zM304.1 102.3l11 20h-22zM308.4 100.9l11 20h-22zM313 98.7l11 20h-22zM316.4 96.9l11 20h-22zM319.7 95.4l11 20h-22zM325.3 92.9l11 20h-22zM330.3 89l11 20h-22zM335.6 85.7l11 20h-22zM341.4 81.8l11 20h-22zM345.2 82l11 20h-22zM349.1 83l11 20h-22zM353 83.4l11 20h-22zM357.1 84.2l11 20h-22zM362.8 86.5l11 20h-22zM367.1 89.6l11 20h-22zM371.2 91.7l11 20h-22zM376.4 95.2l11 20h-22zM380.1 97.1l11 20h-22zM383.5 99.2l11 20h-22zM388.9 101.9l11 20h-22zM394.5 104l11 20h-22zM398.6 106.8l11 20h-22zM403.8 107.7l11 20h-22zM406.9 107l11 20h-22zM411.3 107l11 20h-22zM416.4 106.3l11 20h-22zM420.2 111.6l11 20h-22zM424.5 117.1l11 20h-22zM429.6 124.3l11 20h-22zM434.7 130.6l11 20h-22zM438.2 130l11 20h-22zM443.7 128.8l11 20h-22zM447 128.1l11 20h-22zM453.4 126.2l11 20h-22zM457.1 125.9l11 20h-22zM460.9 125l11 20h-22zM464.6 124.8l11 20h-22zM471.1 126.1l11 20h-22zM475.1 125.4l11 20h-22zM480.2 126l11 20h-22zM486.7 124.9l11 20h-22zM493 123.4l11 20h-22zM496.2 122.6l11 20h-22zM501 120.7l11 20h-22zM506.1 124.3l11 20h-22zM511.6 126.7l11 20h-22zM515.7 127.8l11 20h-22zM519.9 129.9l11 20h-22zM522.9 134.1l11 20h-22zM526 138.6l11 20h-22zM531 141.4l11 20h-22zM534.2 142.9l11 20h-22zM537.9 144.7l11 20h-22zM542.1 145.6l11 20h-22zM545.3 146.4l11 20h-22zM548.4 146.4l11 20h-22zM554.7 149.5l11 20h-22zM559.2 151.7l11 20h-22zM562.9 152.5l11 20h-22zM568.4 154.2l11 20h-22zM571.4 155l11 20h-22zM575.3 158.3l11 20h-22zM581.7 162.2l11 20h-22zM587.8 163.1l11 20h-22zM593 163.8l11 20h-22zM596.4 165.6l11 20h-22zM600.5 167l11 20h-22zM603.6 169.2l11 20h-22zM607.3 171.8l11 20h-22zM610.4 174.3l11 20h-22zM613.9 177.1l11 20h-22zM619.1 179.5l11 20h-22zM622.4 180.9l11 20h-22zM626 182.8l11 20h-22zM632.1 186.4l11 20h-22zM636.3 189.4l11 20h-22zM640.5 190.8l11 20h-22zM643.8 192.1l11 20h-22zM649.6 193.4l11 20h-22zM654.9 194.5l11 20h-22zM659.9 195.5l11 20h-22zM665 195.9l11 20h-22zM668.4 196l11 20h-22zM672.3 196.8l11 20h-22zM677.3 198.6l11 20h-22zM683.7 200.8l11 20h-22zM689.5 202.4l11 20h-22zM694.8 204.2l11 20h-22zM699.6 206.9l11 20h-22zM702.6 208.3l11 20h-22zM708.7 209.7l11 20h-22zM712 210.3l11 20h-22zM715.4 211.7l11 20h-22zM720.9 213.4l11 20h-22zM726.7 215.3l11 20h-22zM732.4 216.7l11 20h-22zM737 217.4l11 20h-22zM740.7 217.3l11 20h-22zM743.8 217.1l11 20h-22zM749.8 219.6l11 20h-22zM756.2 223.5l11 20h-22zM760 226.3l11 20h-22zM766.1 226.4l11 20h-22zM770.5 227.1l11 20h-22zM774.6 227.6l11 20h-22zM779.3 226.3l11 20h-22zM782.4 226.2l11 20h-22zM786.9 226.9l11 20h-22zM790.6 228.4l11 20h-22zM796.1 230.2l11 20h-22zM800.9 232.2l11 20h-22zM806.9 232.7l11 20h-22zM813 232.8l11 20h-22zM817.1 232.3l11 20h-22zM821.1 231l11 20h-22zM827.4 229.8l11 20h-22zM832.2 231.8l11 20h-22zM835.5 232.5l11 20h-22zM838.7 233.1l11 20h-22zM845.1 235.4l11 20h-22zM850.2 236.5l11 20h-22zM853.4 237.1l11 20h-22zM858.2 238l11 20h-22zM862.9 238.9l11 20h-22zM867.4 240.5l11 20h-22zM873.8 243l11 20h-22zM880.1 244.8l11 20h-22zM883.5 245.9l11 20h-22zM887.1 247.7l11 20h-22zM891.5 248.8l11 20h-22zM897.4 251.1l11 20h-22zM902.6 252.9l11 20h-22zM908.1 257.6l11 20h-22zM913.2 261.1l11 20h-22zM916.9 262.1l11 20h-22zM922.8 263.2l11 20h-22zM925.8 264.4l11 20h-22zM931.2 264.8l11 20h-22zM934.9 265.6l11 20h-22zM939.6 266.4l11 20h-22zM946 268.2l11 20h-22zM950.9 270.5l11 20h-22zM954.1 273.5l11 20h-22zM958.6 277.1l11 20h-22zM963.9 278.1l11 20h-22zM967.1 277.9l11 20h-22zM971 277.8l11 20h-22zM974 277.2l11 20h-22zM978.9 276.2l11 20h-22zM983.3 274.7l11 20h-22zM988 272.5l11 20h-22zM992.1 271.7l11 20h-22zM997.4 271.7l11 20h-22zM1001 272.5l11 20h-22zM1007.1 273.7l11 20h-22zM1013.5 275.2l11 20h-22zM1018.2 276.7l11 20h-22zM1022.9 277.8l11 20h-22zM1028.9 279.5l11 20h-22zM1032.9 281l11 20h-22zM1038.7 281.6l11 20h-22zM1042.7 282.1l11 20h-22zM1048.2 283.1l11 20h-22zM1052.4 284.6l11 20h-22zM1057.5 285.8l11 20h-22zM1063.7 287.7l11 20h-22zM1066.9 288.3l11 20h-22zM1072.7 291.2l11 20h-22zM1077.6 293.5l11 20h-22zM1082 296.3l11 20h-22zM1086.2 299.3l11 20h-22zM1089.4 301.1l11 20h-22zM1093.3 304.1l11 20h-22zM1098.5 305.4l11 20h-22zM1101.9 305.7l11 20h-22zM1107.2 307.1l11 20h-22zM1113.6 307.6l11 20h-22zM1120 313.2l11 20h-22zM1126.1 315.7l11 20h-22zM1131.9 315.5l11 20h-22zM1135.6 315.8l11 20h-22zM1142 316.7l11 20h-22zM1145.7 317l11 20h-22zM1151.7 318.3l11 20h-22zM1157.8 318.2l11 20h-22zM1163 317.8l11 20h-22zM1167.8 318.7l11 20h-22zM1171.5 319l11 20h-22zM1176.3 320.1l11 20h-22zM1180.3 321.4l11 20h-22zM1183.8 321.5l11 20h-22zM1187.2 321.9l11 20h-22zM1193 321.5l11 20h-22zM1199.2 323.1l11 20h-22zM1202.7 323.1l11 20h-22zM1205.8 323.9l11 20h-22zM1209.7 323.8l11 20h-22zM1213.2 323.6l11 20h-22zM1216.8 323.4l11 20h-22zM1221.9 325.5l11 20h-22zM1226.4 327.4l11 20h-22zM1230.9 328.7l11 20h-22zM1234.6 329.9l11 20h-22zM1239.9 331.2l11 20h-22zM1243.9 331.3l11 20h-22zM1248.3 332.7l11 20h-22zM1252.9 333.5l11 20h-22zM1259.1 335.5l11 20h-22zM1263 336.9l11 20h-22zM1268.5 339.2l11 20h-22zM1272.6 341l11 20h-22zM1278.7 341.4l11 20h-22zM1283.1 341.6l11 20h-22zM1287.8 341l11 20h-22zM1293.9 339.6l11 20h-22zM1299.3 341.3l11 20h-22zM1302.6 342.5l11 20h-22zM1302.6 342.6l11 20h-22zM172 113.6l11 20h-22zM179.7 112.3l11 20h-22zM187.1 111.9l11 20h-22zM194 112.1l11 20h-22zM202.7 111.2l11 20h-22zM210.4 111l11 20h-22zM221.5 110.9l11 20h-22zM232.5 110.9l11 20h-22zM240.6 110.9l11 20h-22zM250.3 111.8l11 20h-22zM261.7 111.8l11 20h-22zM269.9 112.7l11 20h-22zM279.2 115.8l11 20h-22zM287.9 117.8l11 20h-22zM297.8 113l11 20h-22zM309.5 103l11 20h-22zM316.4 98l11 20h-22zM328.2 92.1l11 20h-22zM338.2 89.9l11 20h-22zM348.9 90.2l11 20h-22zM358.7 90.7l11 20h-22zM370 97.2l11 20h-22zM377.9 102.3l11 20h-22zM388.2 104l11 20h-22zM395.8 106l11 20h-22zM404.8 115.6l11 20h-22zM414.9 117l11 20h-22zM422.1 119.2l11 20h-22zM428.5 128.8l11 20h-22zM439.2 134.9l11 20h-22zM450.1 134.1l11 20h-22zM460.1 130.6l11 20h-22zM468 129.7l11 20h-22zM477.9 128l11 20h-22zM484.4 126.9l11 20h-22zM494.4 127.2l11 20h-22zM503.9 127l11 20h-22zM513.6 127.1l11 20h-22zM522.3 139.7l11 20h-22zM529.6 143.6l11 20h-22zM540 148.4l11 20h-22zM548.8 153.6l11 20h-22zM559.2 156.9l11 20h-22zM567.4 158l11 20h-22zM573.9 160l11 20h-22zM583.2 162.3l11 20h-22zM592.9 163.8l11 20h-22zM604.5 168.8l11 20h-22zM615.8 180.6l11 20h-22zM622.1 182.7l11 20h-22zM632.8 190.3l11 20h-22zM640.3 192.4l11 20h-22zM650.5 195l11 20h-22zM658.8 197.9l11 20h-22zM666.7 199.4l11 20h-22zM675.6 200.8l11 20h-22zM684.8 202.5l11 20h-22zM695 207.4l11 20h-22zM704.8 211.6l11 20h-22zM714.9 213.6l11 20h-22zM723.2 214.6l11 20h-22zM733.3 218.1l11 20h-22zM741.3 220.6l11 20h-22zM751 223.5l11 20h-22zM759.7 225.8l11 20h-22zM769.1 229l11 20h-22zM775.2 230.1l11 20h-22zM784.2 230.3l11 20h-22zM791.5 232.6l11 20h-22zM799.8 234.1l11 20h-22zM806.3 234.4l11 20h-22zM816.2 234.4l11 20h-22zM827.6 235.2l11 20h-22zM835.7 236.5l11 20h-22zM842.4 236.7l11 20h-22zM852.1 237.7l11 20h-22zM858.8 239l11 20h-22zM870.2 243.5l11 20h-22zM876.9 245.9l11 20h-22zM885.1 248.7l11 20h-22zM894.1 252.4l11 20h-22zM900.8 256.3l11 20h-22zM908.7 260.5l11 20h-22zM916.3 261.3l11 20h-22zM926.6 262.8l11 20h-22zM938.5 266.8l11 20h-22zM946.7 272.3l11 20h-22zM957.4 274l11 20h-22zM964.3 276.4l11 20h-22zM973.8 279.2l11 20h-22zM982.4 277.4l11 20h-22zM990.1 277.1l11 20h-22zM1001 277.9l11 20h-22zM1011.5 278.8l11 20h-22zM1018.3 279.5l11 20h-22zM1026.1 280.4l11 20h-22zM1037 282.2l11 20h-22zM1048.9 284.1l11 20h-22zM1058.6 286.3l11 20h-22zM1069.8 291.9l11 20h-22zM1081.7 299l11 20h-22zM1092.2 301.6l11 20h-22zM1102.1 307.5l11 20h-22zM1109.4 308.1l11 20h-22zM1117.6 309.4l11 20h-22zM1127.3 314.5l11 20h-22zM1138.9 315.9l11 20h-22zM1146.7 320.5l11 20h-22zM1155.1 320.4l11 20h-22zM1161.2 320.7l11 20h-22zM1171.4 321l11 20h-22zM1180.1 324.4l11 20h-22zM1190.8 324.7l11 20h-22zM1198.2 324.8l11 20h-22zM1208.2 327.8l11 20h-22zM1218.2 328.4l11 20h-22zM1227 328.9l11 20h-22zM1234.2 329.4l11 20h-22zM1242.6 329.6l11 20h-22zM1253 334.4l11 20h-22zM1260.2 335.1l11 20h-22zM1266.7 336.5l11 20h-22zM1275.5 340.1l11 20h-22zM1282.9 340.2l11 20h-22zM1293.7 341.1l11 20h-22zM1302.6 344.4l11 20h-22z"/>
<polygon fill="#008080" points="172,179.1 174,179.1 176,179.2 178,179.3 180,179.3 182,179.4 184,179.5 186,179.6 188,179.7 190,179.7 192,179.8 194,179.9 196,180 198,180 200,180.1 202,180.2 204,180.5 206,181 208,181.5 210,182.1 212,182.6 214,183.1 216,183.6 218,184.2 220,184.7 222,185.2 224,186 226,194.7 228,195.1 230,195.5 232,195.9 234,196.3 236,196.7 238,197.5 240,198.3 242,199.1 244,199.9 246,200.7 248,201.5 250,202.3 252,203.1 254,203.9 256,204.7 258,205.5 260,204.6 262,203.6 264,202.6 266,201.6 268,201 270,200.8 272,200.5 274,200.3 276,200 278,199.8 280,199.5 282,199.3 284,199 286,198.8 288,198.5 290,198.3 292,198 294,197.8 296,197.5 298,197.3 300,197 302,196.8 304,196.9 306,197.1 308,197.3 310,197.5 312,197.7 314,197.9 316,198.1 318,198.2 320,198.4 322,198.6 324,198.8 326,199 328,199.2 330,199.4 332,199.6 334,199.7 336,199.9 338,200.1 340,200.3 342,200.6 344,200.8 346,201 348,201.2 350,201.5 352,201.7 354,201.9 356,202.1 358,202.4 360,202.7 362,203.1 364,203.4 366,203.7 368,204.1 370,204.4 372,204.7 374,205.1 376,205.4 378,205.7 380,206.1 382,206.4 384,206.7 386,207.1 388,207.4 390,207.7 392,208.4 394,209.1 396,209.8 398,210.5 400,211.2 402,212 404,212.7 406,213.3 408,213.4 410,213.5 412,213.7 414,213.8 416,213.9 418,214 420,214.2 422,214.3 424,219.9 426,223.3 428,223.4 430,223.5 432,223.6 434,223.7 436,223.8 438,223.9 440,224 442,224.1 444,224.2 446,224.3 448,224.4 450,224.5 452,224.6 454,224.7 456,224.8 458,224.9 460,225 462,225.1 464,225.2 466,225.3 468,225.6 470,226.4 472,227.2 474,228 476,228.8 478,229.6 480,230.4 482,231.2 484,231.3 486,231.4 488,231.4 490,231.5 492,231.6 494,231.6 496,231.7 498,231.8 500,231.8 502,231.9 504,232 506,232 508,232.1 510,232.2 512,232.2 514,232.3 516,232.4 518,232.5 520,232.6 522,232.7 524,232.8 526,233 528,233.1 530,233.2 532,233.3 534,233.4 536,235.1 538,237 540,237.5 542,238 544,238.5 546,239 548,239.5 550,240 552,240.5 554,241 556,241.7 558,242.5 560,243.4 562,244.2 564,245 566,245.9 568,246.7 570,246.9 572,247 574,247.2 576,247.4 578,247.6 580,247.8 582,247.9 584,248.1 586,248.3 588,248.5 590,248.7 592,248.9 594,249 596,249.1 598,249.2 600,249.3 602,249.4 604,249.5 606,249.6 608,249.7 610,249.8 612,249.9 614,250 616,250.5 618,251.1 620,251.6 622,252.2 624,252.8 626,253.3 628,253.9 630,254.5 632,255.4 634,256.3 636,257.1 638,258 640,258.8 642,259.7 644,260.5 646,261.1 648,261.4 650,261.7 652,262 654,262.3 656,262.6 658,262.8 660,263.1 662,258.7 664,258.3 666,258 668,257.6 670,257.2 672,256.9 674,256.5 676,256.2 678,255.8 680,255.4 682,255.1 684,254.7 686,253.2 688,248.6 690,248.2 692,247.8 694,247.3 696,246.9 698,246.5 700,246.1 702,245.6 704,245.6 706,245.6 708,245.6 710,245.6 712,245.6 714,245.6 716,245.6 718,245.6 720,245.6 722,245.6 724,245.6 726,245.6 728,245.6 730,245.6 732,245.6 734,245.6 736,245.6 738,247.2 740,253.3 742,253.9 744,254.4 746,255 748,255.5 750,256.1 752,256.6 754,257.1 756,257.7 758,258.2 760,258.8 762,262.6 764,265.6 766,267.1 768,268.6 770,270.1 772,271.6 774,272 776,272.4 778,272.8 780,273.2 782,273.6 784,277.2 786,281.6 788,281.9 790,282.2 792,282.5 794,282.8 796,283 798,283.3 800,283.6 802,283.9 804,284.2 806,284.5 808,284.8 810,285 812,285.3 814,285.6 816,285.9 818,290.7 820,295.7 822,298.4 824,300.4 826,302.4 828,303.7 830,304 832,304.4 834,304.5 836,303.5 838,302.5 840,302.2 842,301.9 844,301.6 846,301.4 848,301.1 850,300.8 852,300.5 854,300.3 856,300 858,299.7 860,299.5 862,299.2 864,299.2 866,299.3 868,299.4 870,299.5 872,299.6 874,299.7 876,299.9 878,300 880,300.1 882,300.2 884,300.3 886,300.4 888,300.5 890,300.6 892,300.7 894,300.8 896,300.9 898,301 900,301.1 902,301.2 904,301.3 906,302.4 908,303.6 910,304.7 912,305.9 914,307.1 916,308.2 918,309.3 920,310.3 922,311.3 924,312.3 926,313.3 928,314.3 930,315.3 932,316.3 934,317.3 936,318.3 938,320.1 940,322.4 942,322.8 944,323.3 946,323.7 948,324.2 950,324.6 952,325.1 954,325.5 956,325.9 958,326.4 960,326.7 962,326.8 964,326.9 966,327 968,327.1 970,327.2 972,327.2 974,327.3 976,327.4 978,327.5 980,327.6 982,327.7 984,330.4 986,333.4 988,333.5 990,333.7 992,333.9 994,334 996,334.2 998,334.3 1000,334.5 1002,334.7 1004,334.8 1006,335 1008,335.1 1010,335.3 1012,335.5 1014,337.6 1016,339.8 1018,342 1020,344.2 1022,346.5 1024,347.3 1026,347.3 1028,347.3 1030,347.3 1032,347.3 1034,347.3 1036,349.1 1038,356.6 1040,357.3 1042,357.8 1044,358.4 1046,358.9 1048,359.9 1050,361.2 1052,360.1 1054,360.6 1056,361.2 1058,361.7 1060,362.3 1062,363.2 1064,364.1 1066,364.9 1068,365.4 1070,366 1072,366.5 1074,367.1 1076,367.8 1078,371.1 1080,371.6 1082,372.2 1084,372.7 1086,373.3 1088,373.9 1090,374.4 1092,375 1094,375.5 1096,376.1 1098,376.6 1100,377.2 1102,377.7 1104,378.2 1106,378.8 1108,379.3 1110,379.8 1112,380 1114,380.3 1116,380.6 1118,380.8 1120,381.1 1122,381.7 1124,382.4 1126,383.1 1128,383.6 1130,384 1132,384.5 1134,384.9 1136,385.3 1138,385.7 1140,386.2 1142,386.6 1144,387 1146,387.5 1148,387.9 1150,388.3 1152,389 1154,389.6 1156,390.2 1158,390.8 1160,391.5 1162,391.5 1164,391.6 1166,391.6 1168,391.7 1170,391.7 1172,391.8 1174,391.8 1176,391.9 1178,392 1180,392 1182,392.1 1184,398.3 1186,398.3 1188,398.3 1190,398.3 1192,398.3 1194,398.3 1196,398.3 1198,398.3 1200,398.3 1202,398.3 1204,398.3 1206,398.4 1208,398.5 1210,398.6 1212,398.6 1214,398.7 1216,398.8 1218,398.9 1220,399.7 1222,402.2 1224,402.3 1226,402.4 1228,402.5 1230,402.7 1232,402.8 1234,402.9 1236,403.1 1238,403.2 1240,404.5 1242,407.1 1244,407.2 1246,407.3 1248,407.4 1250,407.5 1252,407.6 1254,409.1 1256,410.8 1258,409.8 1260,408.8 1262,407.8 1264,405 1266,402 1268,400.2 1270,400.2 1272,400.2 1274,400.2 1276,400.2 1278,400.2 1280,400.2 1282,400.2 1284,400.2 1286,400.2 1288,400.2 1290,400.2 1292,405.8 1294,405.9 1296,406 1298,406.1 1300,406.2 1300,407.4 1298,407.3 1296,407.1 1294,407 1292,406.8 1290,406.7 1288,406.5 1286,406.4 1284,406.2 1282,406 1280,405.9 1278,405.7 1276,405.5 1274,405.4 1272,405.6 1270,408.6 1268,411.6 1266,414.6 1264,417.6 1262,420.6 1260,420.8 1258,419.4 1256,418 1254,416.6 1252,415.2 1250,414 1248,413.8 1246,413.6 1244,413.4 1242,413.2 1240,413 1238,412.8 1236,412.6 1234,412.4 1232,412.2 1230,412 1228,411.8 1226,411.4 1224,411 1222,410.6 1220,410.2 1218,409.8 1216,409.4 1214,409 1212,408.6 1210,408.2 1208,407.8 1206,407.4 1204,407 1202,406.6 1200,406.2 1198,405.8 1196,405.4 1194,405 1192,404.6 1190,404.2 1188,403.8 1186,403.4 1184,403 1182,402.6 1180,402.2 1178,401.8 1176,401.4 1174,401 1172,400.6 1170,400.2 1168,399.8 1166,399.4 1164,399 1162,398.6 1160,398 1158,397.4 1156,396.8 1154,396.2 1152,395.6 1150,395 1148,394.4 1146,393.8 1144,393.2 1142,392.6 1140,391.9 1138,391.1 1136,390.3 1134,389.5 1132,388.7 1130,387.9 1128,387.1 1126,386.3 1124,385.5 1122,384.7 1120,383.9 1118,383.1 1116,382.3 1114,381.5 1112,380.7 1110,379.9 1108,379.3 1106,378.8 1104,378.2 1102,377.7 1100,377.2 1098,376.6 1096,376.1 1094,375.5 1092,375 1090,374.4 1088,373.9 1086,373.3 1084,372.7 1082,372.2 1080,371.6 1078,371.1 1076,367.8 1074,367.1 1072,366.5 1070,366 1068,365.4 1066,364.9 1064,364.1 1062,363.2 1060,362.3 1058,361.7 1056,361.2 1054,360.6 1052,360.1 1050,361.2 1048,359.9 1046,358.9 1044,358.4 1042,357.8 1040,357.3 1038,356.6 1036,351.8 1034,351.8 1032,351.8 1030,351.8 1028,351.8 1026,351.8 1024,351.6 1022,351.2 1020,350.8 1018,350.4 1016,350 1014,349.5 1012,348.7 1010,347.9 1008,347.1 1006,346.3 1004,345.5 1002,344.8 1000,344.2 998,343.6 996,343 994,342.4 992,341.8 990,340.8 988,339.8 986,338.8 984,337.8 982,336.8 980,336 978,335.4 976,334.8 974,334.2 972,333.6 970,333 968,332.2 966,331.4 964,330.6 962,329.8 960,329 958,328.6 956,328.4 954,328.2 952,328 950,327.8 948,327.5 946,326.7 944,325.9 942,325.1 940,324.3 938,323.5 936,322.9 934,322.5 932,322.1 930,321.7 928,321.3 926,320.8 924,319 922,317.2 920,315.4 918,313.6 916,311.8 914,310.7 912,310.1 910,309.5 908,308.9 906,308.3 904,307.8 902,308 900,308.2 898,308.4 896,308.6 894,308.8 892,308.6 890,308.2 888,307.8 886,307.4 884,307 882,306.6 880,306.4 878,306.2 876,306 874,305.8 872,305.6 870,306.4 868,307.9 866,309.4 864,310.9 862,312.1 860,311.6 858,311.1 856,310.6 854,310.1 852,310.5 850,311.2 848,311.9 846,312.7 844,313.4 842,314.1 840,314.8 838,315.5 836,315.3 834,315.1 832,314.9 830,314.7 828,314.5 826,313.4 824,311.6 822,309.8 820,308 818,306.2 816,304.4 814,303.6 812,302.8 810,302 808,301.2 806,300.4 804,299 802,297 800,295 798,293 796,291 794,289 792,288.3 790,287.6 788,286.9 786,286.2 784,285.5 782,284.8 780,284.1 778,283.4 776,282.7 774,282 772,281.3 770,279.9 768,278.5 766,277.1 764,275.7 762,274.3 760,272.9 758,272.1 756,271.2 754,270.4 752,269.5 750,268.7 748,267.8 746,266.9 744,266.1 742,265.2 740,263.3 738,261.3 736,259.3 734,257.3 732,255.3 730,253.3 728,251.8 726,251.3 724,250.8 722,250.3 720,249.8 718,249.3 716,248.8 714,250.8 712,253.5 710,256.3 708,259 706,260.7 704,260.4 702,260.1 700,259.8 698,259.6 696,259.3 694,259 692,258.7 690,259.4 688,260.6 686,261.8 684,263 682,264.2 680,265.4 678,266.6 676,267.8 674,269 672,270.2 670,271.4 668,271.6 666,271.2 664,270.8 662,270.4 660,270 658,269.6 656,269.4 654,269.2 652,269 650,268.8 648,268.6 646,268.4 644,268.2 642,268 640,267.8 638,267.6 636,267.3 634,266.6 632,265.9 630,265.2 628,264.5 626,263.8 624,263.1 622,262.4 620,261.7 618,261 616,260.3 614,259.6 612,258.9 610,258.2 608,257.5 606,256.8 604,256.1 602,255.4 600,254.7 598,254 596,253.3 594,252.6 592,252 590,252 588,252 586,252 584,252 582,252.7 580,253.7 578,254.7 576,255.7 574,256.7 572,257.7 570,258.5 568,256.5 566,254.5 564,252.5 562,250.5 560,248.5 558,247.8 556,248.2 554,248.6 552,249 550,249.4 548,249.8 546,249.3 544,248.8 542,248.3 540,247.8 538,247.3 536,246.8 534,246.3 532,245.8 530,245.3 528,244.8 526,244.2 524,243.2 522,242.2 520,241.2 518,240.2 516,239.2 514,238.9 512,239.1 510,239.3 508,239.5 506,239.7 504,239.9 502,240.1 500,240.3 498,240.5 496,240.7 494,240.9 492,240.9 490,240.6 488,240.4 486,240.2 484,240 482,239.8 480,239.5 478,239.3 476,239.1 474,238.9 472,238.2 470,237.3 468,236.8 466,236.4 464,235.9 462,235.4 460,234.9 458,234.4 456,234 454,234 452,234 450,234 448,234 446,234 444,234 442,234 440,234 438,234 436,234 434,233.9 432,233.2 430,232.5 428,231.8 426,231.1 424,230.4 422,229.7 420,229 418,228.3 416,227.6 414,226.9 412,226.2 410,225.3 408,224.4 406,223.5 404,222.6 402,221.7 400,220.8 398,219.9 396,219 394,218.1 392,217.2 390,216.3 388,215.8 386,215.3 384,214.8 382,214.3 380,213.8 378,213.3 376,212.8 374,212.3 372,211.8 370,211.3 368,210.9 366,210.8 364,210.7 362,210.6 360,210.5 358,210.4 356,210.3 354,210.2 352,210.1 350,210 348,209.9 346,209.8 344,209.7 342,209.6 340,209.5 338,209.4 336,209.3 334,209.2 332,209.1 330,209 328,208.9 326,208.8 324,208.7 322,208.6 320,208.5 318,208.4 316,208.3 314,208.2 312,208.1 310,208 308,207.9 306,207.8 304,207.7 302,207.6 300,208 298,208.5 296,208.9 294,209.3 292,209.7 290,210.1 288,210.5 286,211 284,211.4 282,211.8 280,212.2 278,212.6 276,213 274,212.9 272,212.6 270,212.4 268,212.1 266,211.9 264,211.6 262,211.4 260,211.1 258,210.9 256,210.7 254,210.5 252,210.3 250,210.1 248,209.9 246,209.7 244,209.5 242,209.3 240,209.1 238,208.9 236,208.7 234,208.5 232,208.3 230,208.1 228,207.9 226,207.7 224,206.3 222,203.8 220,201.3 218,198.8 216,196.3 214,193.8 212,191.3 210,188.8 208,186.3 206,185.2 204,184.7 202,184.2 200,183.7 198,183.5 196,184.1 194,184.6 192,185.2 190,185.7 188,186.3 186,186.8 184,187.4 182,187.9 180,188.4 178,189 176,189.5 174,190 172,190"/><path fill="#008080" d="M159 170.9h22l-11 20zM167.4 170.9h22l-11 20zM177.2 171.3h22l-11 20zM187.4 173h22l-11 20zM196.1 175.7h22l-11 20zM203.2 179.1h22l-11 20zM215 187.8h22l-11 20zM223.8 191.7h22l-11 20zM234.1 195.6h22l-11 20zM243.3 196.1h22l-11 20zM249.8 197.4h22l-11 20zM257.2 196.8h22l-11 20zM263.6 193.9h22l-11 20zM270.7 191.9h22l-11 20zM277.9 190.7h22l-11 20zM286.4 190.5h22l-11 20zM294.4 189.9h22l-11 20zM302.5 189.9h22l-11 20zM313.4 191.2h22l-11 20zM319.6 191.8h22l-11 20zM326.2 192.3h22l-11 20zM337 194.1h22l-11 20zM346.2 195.7h22l-11 20zM354.9 197.1h22l-11 20zM362.5 198.3h22l-11 20zM371.7 199.7h22l-11 20zM379.1 202.5h22l-11 20zM390.2 205.1h22l-11 20zM401.1 206h22l-11 20zM409.1 214.9h22l-11 20zM415.2 215.2h22l-11 20zM426.6 216.2h22l-11 20zM434.3 215.8h22l-11 20zM444.3 216.5h22l-11 20zM455.4 220.3h22l-11 20zM466.2 223.4h22l-11 20zM477.4 223h22l-11 20zM486.3 223.1h22l-11 20zM497.4 223.9h22l-11 20zM506.2 224.7h22l-11 20zM513.7 224.6h22l-11 20zM522.6 230.2h22l-11 20zM530.6 231.6h22l-11 20zM541.2 236h22l-11 20zM552.2 238.3h22l-11 20zM559.1 239.7h22l-11 20zM566.1 239.6h22l-11 20zM574.4 240.8h22l-11 20zM583.1 241.3h22l-11 20zM594.9 241.7h22l-11 20zM606.5 244.9h22l-11 20zM618.3 250.1h22l-11 20zM628.7 253.2h22l-11 20zM638.8 254.6h22l-11 20zM646.4 254.9h22l-11 20zM654.6 254.3h22l-11 20zM660.6 250.3h22l-11 20zM671.6 248.2h22l-11 20zM679.3 246.8h22l-11 20zM685.8 240.7h22l-11 20zM693.7 238.4h22l-11 20zM701.6 236.9h22l-11 20zM712 236.8h22l-11 20zM718 241.9h22l-11 20zM725.4 246.9h22l-11 20zM736.7 249.3h22l-11 20zM747.9 260.4h22l-11 20zM757.7 264.5h22l-11 20zM767 273.2h22l-11 20zM774.3 274.2h22l-11 20zM785.6 275.9h22l-11 20zM796.2 280.1h22l-11 20zM805.2 294.4h22l-11 20zM812.2 296.5h22l-11 20zM819.5 296.4h22l-11 20zM827.8 296h22l-11 20zM835.8 294.6h22l-11 20zM842.1 293.2h22l-11 20zM850.6 291.8h22l-11 20zM859.3 292h22l-11 20zM867 291.6h22l-11 20zM875.3 292.1h22l-11 20zM883.3 293.1h22l-11 20zM891.5 297.8h22l-11 20zM901.3 302.7h22l-11 20zM910.2 307.9h22l-11 20zM917.4 312.2h22l-11 20zM928.2 316h22l-11 20zM937.3 317.5h22l-11 20zM946 318.9h22l-11 20zM956.3 318.6h22l-11 20zM966.8 324.9h22l-11 20zM977.9 326.3h22l-11 20zM988.8 327.2h22l-11 20zM998.8 335.9h22l-11 20zM1009.1 339.1h22l-11 20zM1016.1 346.6h22l-11 20zM1026.3 352.4h22l-11 20zM1033.8 356.5h22l-11 20zM1041.3 358.5h22l-11 20zM1048.1 361.8h22l-11 20zM1056.4 367.8h22l-11 20zM1062.6 368.4h22l-11 20zM1072.5 368.9h22l-11 20zM1083 369.9h22l-11 20zM1093.6 371.9h22l-11 20zM1100.4 372.6h22l-11 20zM1110.3 376.2h22l-11 20zM1121.3 378.4h22l-11 20zM1127.5 379.4h22l-11 20zM1134.7 381.9h22l-11 20zM1142.3 383.3h22l-11 20zM1151 383.1h22l-11 20zM1158.1 383.8h22l-11 20zM1167.3 390.2h22l-11 20zM1175.4 389.9h22l-11 20zM1185.3 389.8h22l-11 20zM1194.5 390.7h22l-11 20zM1204.6 394.3h22l-11 20zM1212.1 394.2h22l-11 20zM1222.3 398.3h22l-11 20zM1232.7 400.2h22l-11 20zM1243.1 402.2h22l-11 20zM1249.5 402.3h22l-11 20zM1261.2 399.3h22l-11 20zM1270.6 397.1h22l-11 20zM1278.2 398.1h22l-11 20zM1286.9 398.7h22l-11 20zM1291.6 399.9h22l-11 20zM162 180.5h22l-11 20zM165.2 179.8h22l-11 20zM169.4 178.8h22l-11 20zM175.8 177h22l-11 20zM179.6 176.4h22l-11 20zM184.2 174.8h22l-11 20zM190.6 174.8h22l-11 20zM193.6 175.8h22l-11 20zM197.6 177.9h22l-11 20zM203.5 185h22l-11 20zM206.8 189.4h22l-11 20zM213.1 196.8h22l-11 20zM219 199h22l-11 20zM222.5 199.4h22l-11 20zM227.6 199.1h22l-11 20zM232.5 200.2h22l-11 20zM238 200.6h22l-11 20zM242 201.2h22l-11 20zM246.4 201.7h22l-11 20zM250.2 202h22l-11 20zM254.2 202.2h22l-11 20zM257.9 203.2h22l-11 20zM264 203.3h22l-11 20zM270.1 202.2h22l-11 20zM274.4 201.6h22l-11 20zM279.8 200.7h22l-11 20zM284.5 199.8h22l-11 20zM288.5 199h22l-11 20zM292.7 198.4h22l-11 20zM299.1 198.3h22l-11 20zM303.3 199.2h22l-11 20zM308.3 198.8h22l-11 20zM314.6 199.2h22l-11 20zM318.7 200h22l-11 20zM324.5 200.2h22l-11 20zM327.9 199.8h22l-11 20zM333.5 200.2h22l-11 20zM339.3 200.7h22l-11 20zM345.2 200.6h22l-11 20zM351.7 201.4h22l-11 20zM357.1 201.5h22l-11 20zM363.6 203.4h22l-11 20zM367.5 204h22l-11 20zM372.4 205.6h22l-11 20zM376.1 206.5h22l-11 20zM379.4 206.9h22l-11 20zM383.9 209.1h22l-11 20zM389.5 211.5h22l-11 20zM395.2 214h22l-11 20zM398.2 215.5h22l-11 20zM404.5 218.3h22l-11 20zM408.4 219.2h22l-11 20zM412.4 221.1h22l-11 20zM418.3 223.1h22l-11 20zM424.5 224.7h22l-11 20zM430.1 224.9h22l-11 20zM434.2 224.9h22l-11 20zM438.8 224.5h22l-11 20zM444.8 224.4h22l-11 20zM449 225.6h22l-11 20zM454.8 227h22l-11 20zM460.6 228.9h22l-11 20zM465.2 229.7h22l-11 20zM471.3 230.3h22l-11 20zM475.7 230.5h22l-11 20zM481.3 231.9h22l-11 20zM486.6 230.8h22l-11 20zM490.7 230.3h22l-11 20zM495.6 230.4h22l-11 20zM500.7 229.5h22l-11 20zM505.6 229.9h22l-11 20zM509 231.7h22l-11 20zM515.4 235.1h22l-11 20zM521.8 236.5h22l-11 20zM524.9 237.1h22l-11 20zM531.2 239.2h22l-11 20zM536.1 240.2h22l-11 20zM539.5 240.3h22l-11 20zM545.4 238.5h22l-11 20zM549.9 239.8h22l-11 20zM555.4 245.9h22l-11 20zM561.3 247.9h22l-11 20zM566.2 245.5h22l-11 20zM569.4 244.4h22l-11 20zM575.3 242.6h22l-11 20zM580.7 242.4h22l-11 20zM586.9 244.7h22l-11 20zM590.8 246h22l-11 20zM596.6 247.6h22l-11 20zM602.6 250h22l-11 20zM606.9 251.6h22l-11 20zM611.3 253.5h22l-11 20zM615.5 254.9h22l-11 20zM618.5 255.4h22l-11 20zM622.3 256.8h22l-11 20zM626.5 257.9h22l-11 20zM629.8 258.4h22l-11 20zM635.5 259h22l-11 20zM640 259.5h22l-11 20zM645 259.8h22l-11 20zM649 260.7h22l-11 20zM653.3 261.4h22l-11 20zM658.9 262.1h22l-11 20zM663.5 259.1h22l-11 20zM668.6 256.4h22l-11 20zM673.1 253.9h22l-11 20zM678.1 250.9h22l-11 20zM684.2 250h22l-11 20zM688.1 250h22l-11 20zM693 250.8h22l-11 20zM698.4 247.5h22l-11 20zM701.7 243.2h22l-11 20zM708 240.5h22l-11 20zM712.8 241.4h22l-11 20zM716.6 242h22l-11 20zM722.3 247.2h22l-11 20zM728.2 252.9h22l-11 20zM733.4 256.9h22l-11 20zM739.6 259.8h22l-11 20zM742.9 260.8h22l-11 20zM747.7 263h22l-11 20zM753.3 266.7h22l-11 20zM759.5 271.1h22l-11 20zM764.8 273.1h22l-11 20zM769.9 275.2h22l-11 20zM774.2 276.5h22l-11 20zM779.2 278.5h22l-11 20zM784.2 280.6h22l-11 20zM790.4 287h22l-11 20zM796.2 291.5h22l-11 20zM801.8 293.4h22l-11 20zM808.1 297.6h22l-11 20zM811.3 300.5h22l-11 20zM817 305.2h22l-11 20zM821.6 305.3h22l-11 20zM827.2 306.1h22l-11 20zM831.3 304.2h22l-11 20zM835.9 302.6h22l-11 20zM841.8 300.7h22l-11 20zM844.9 300.9h22l-11 20zM848.9 302.1h22l-11 20zM853.7 300.8h22l-11 20zM859.6 296.8h22l-11 20zM863.6 296.1h22l-11 20zM869.5 296.9h22l-11 20zM873.3 298h22l-11 20zM877.4 298.7h22l-11 20zM882.3 299.4h22l-11 20zM887.6 298.7h22l-11 20zM893.7 298.8h22l-11 20zM899.8 300h22l-11 20zM903.6 301.6h22l-11 20zM909.2 305.8h22l-11 20zM914.5 310.7h22l-11 20zM918.8 312.3h22l-11 20zM924.5 313.6h22l-11 20zM930.7 315.9h22l-11 20zM935.4 317.8h22l-11 20zM941.6 318.5h22l-11 20zM945 318.7h22l-11 20zM948.6 319.1h22l-11 20zM954.3 321.8h22l-11 20zM958.3 323h22l-11 20zM963.4 325.1h22l-11 20zM968.1 326h22l-11 20zM971.6 327.3h22l-11 20zM977.3 330.8h22l-11 20zM982.9 332.7h22l-11 20zM986.4 333.9h22l-11 20zM990.3 335h22l-11 20zM996.1 337.1h22l-11 20zM1002.3 339.8h22l-11 20zM1008.3 341.2h22l-11 20zM1013.1 342.3h22l-11 20zM1017.4 342.1h22l-11 20zM1021.9 342.1h22l-11 20zM1025.5 342.8h22l-11 20zM1030.3 344.6h22l-11 20zM1034.1 346.8h22l-11 20zM1037.7 348.6h22l-11 20zM1042 346.8h22l-11 20zM1045.2 347.7h22l-11 20zM1049.9 349.5h22l-11 20zM1055.3 351.5h22l-11 20zM1060.6 353.4h22l-11 20zM1067 356.1h22l-11 20zM1073.1 358.8h22l-11 20zM1078.3 362h22l-11 20zM1084.4 364.7h22l-11 20zM1089 366.5h22l-11 20zM1094.8 369.2h22l-11 20zM1098.8 370.6h22l-11 20zM1103.6 372.1h22l-11 20zM1110.1 374.6h22l-11 20zM1115.2 376.7h22l-11 20zM1119.9 379.2h22l-11 20zM1125.7 381h22l-11 20zM1129.8 382.8h22l-11 20zM1135.7 384.8h22l-11 20zM1138.8 385.5h22l-11 20zM1142.6 386.3h22l-11 20zM1146.2 387.4h22l-11 20zM1150.1 389h22l-11 20zM1156.4 390.6h22l-11 20zM1159.5 390.6h22l-11 20zM1163.6 391.3h22l-11 20zM1168.6 392.7h22l-11 20zM1174 394h22l-11 20zM1179.7 394.9h22l-11 20zM1184.1 395.6h22l-11 20zM1187.8 396.6h22l-11 20zM1193.8 397.9h22l-11 20zM1197.3 398.6h22l-11 20zM1200.5 399.2h22l-11 20zM1204.3 400.2h22l-11 20zM1209 401h22l-11 20zM1215.3 401.7h22l-11 20zM1220.9 403.2h22l-11 20zM1225.8 403.1h22l-11 20zM1230.7 403.5h22l-11 20zM1236.1 404.4h22l-11 20zM1241.3 406h22l-11 20zM1245.5 409.2h22l-11 20zM1248.8 411.2h22l-11 20zM1252.5 408.9h22l-11 20zM1258.2 400.2h22l-11 20zM1263.4 396h22l-11 20zM1269.2 396.1h22l-11 20zM1272.4 396.4h22l-11 20zM1278.5 397.2h22l-11 20zM1282.9 397.4h22l-11 20zM1289.1 398.2h22l-11 20zM1291.6 397.9h22l-11 20z"/>
<polygon fill="#ff00ff" points="172,255.2 174,255.2 176,255 178,254.8 180,254.5 182,254.3 184,254 186,253.8 188,253.5 190,253.3 192,253 194,253.7 196,254.3 198,255 200,255.7 202,256.3 204,257 206,257.8 208,258.9 210,259.9 212,261 214,262 216,263 218,264.1 220,265.1 222,266.2 224,267.2 226,268.3 228,269.3 230,270.3 232,277.8 234,287.2 236,287.1 238,287.1 240,287 242,287 244,286.9 246,286.9 248,286.8 250,286.8 252,286.7 254,286.7 256,286.6 258,286.6 260,286.5 262,286.5 264,286.4 266,286.4 268,286.4 270,286.3 272,286.3 274,286.2 276,286.2 278,286.1 280,286.1 282,285.9 284,285.7 286,285.5 288,285.3 290,285.1 292,284.9 294,284.7 296,284.5 298,284.3 300,284.1 302,283.9 304,283.7 306,283.5 308,283.3 310,283.1 312,282.9 314,282.7 316,282.5 318,282.3 320,282.1 322,281.9 324,281.7 326,281.4 328,281.2 330,280.9 332,280.7 334,280.4 336,280.2 338,279.9 340,279.7 342,279.4 344,279.2 346,278.9 348,278.7 350,278.4 352,278.2 354,277.9 356,277.7 358,277.4 360,277.2 362,276.9 364,276.7 366,276.4 368,276.2 370,276.2 372,276.3 374,276.4 376,276.5 378,276.6 380,276.7 382,276.8 384,276.9 386,277 388,277.1 390,277.2 392,277.9 394,278.6 396,279.3 398,280 400,280.7 402,281.4 404,282.1 406,282.8 408,283.5 410,284.2 412,284.9 414,285.2 416,285.5 418,285.8 420,286.1 422,286.4 424,286.7 426,287 428,287.3 430,287.6 432,287.9 434,288.2 436,288.2 438,288.1 440,288 442,287.9 444,287.8 446,287.7 448,287.6 450,287.5 452,287.4 454,287.3 456,287.2 458,287.2 460,287.3 462,287.3 464,287.4 466,287.4 468,287.5 470,287.6 472,289 474,289.8 476,290.6 478,291.4 480,292.2 482,293 484,292.8 486,292.5 488,292.3 490,292 492,295.4 494,298.7 496,299.1 498,299.5 500,299.9 502,300.3 504,300.7 506,299.6 508,298.4 510,297.2 512,296 514,294.8 516,294.3 518,294.7 520,295.1 522,295.5 524,295.9 526,296.3 528,296.6 530,296.9 532,297.2 534,297.5 536,297.8 538,298.1 540,298.4 542,298.7 544,299 546,299.3 548,299.6 550,299.8 552,300 554,300.2 556,300.4 558,300.6 560,300.8 562,301 564,301.2 566,301.4 568,301.6 570,301.8 572,302.1 574,302.4 576,302.7 578,303 580,303.3 582,303.6 584,303.9 586,304.2 588,304.5 590,304.8 592,305.1 594,305.4 596,305.7 598,306 600,306.3 602,306.6 604,306.9 606,307.2 608,307.5 610,307.8 612,308.1 614,308.4 616,308.6 618,308.8 620,309 622,309.2 624,309.4 626,309.6 628,309.8 630,310 632,310.2 634,310.4 636,310.6 638,311 640,311.4 642,311.8 644,312.2 646,312.6 648,313 650,313.3 652,313.6 654,314 656,314.3 658,314.6 660,315 662,315.3 664,315.6 666,316 668,316.3 670,316.6 672,317 674,317.3 676,317.6 678,318 680,318.3 682,318.6 684,318.9 686,319.2 688,319.5 690,319.8 692,320.1 694,320.4 696,320.7 698,321 700,321.3 702,321.6 704,321.4 706,321.1 708,320.8 710,320.6 712,320.3 714,320 716,319.7 718,319.4 720,318.7 722,318.1 724,317.5 726,316.9 728,316.2 730,315.6 732,315 734,314.4 736,313.7 738,313 740,312.3 742,311.6 744,310.9 746,310.1 748,309.4 750,308.7 752,308 754,307.3 756,306.6 758,305.9 760,305.1 762,304.6 764,304 766,303.9 768,304.9 770,305.9 772,306.9 774,307.9 776,308.9 778,309.9 780,310.9 782,311.9 784,312.9 786,313.9 788,314.9 790,315.9 792,316.9 794,317.9 796,318.2 798,318.4 800,318.7 802,318.9 804,319.8 806,321.1 808,322.5 810,323.8 812,325.1 814,326.5 816,327.8 818,328.6 820,329.4 822,330.2 824,331 826,331.8 828,332.1 830,331.8 832,331.5 834,331.3 836,332 838,332.8 840,333.5 842,334.3 844,334.5 846,334.5 848,334.5 850,334.5 852,334.5 854,334.5 856,334.5 858,334.7 860,342.2 862,349.7 864,351.3 866,351.7 868,352.1 870,352.5 872,352.9 874,353.1 876,352.8 878,352.4 880,352.1 882,351.8 884,351.4 886,351.1 888,351.2 890,351.4 892,351.7 894,352 896,352.2 898,352.5 900,352.7 902,352.8 904,352.9 906,353 908,353.1 910,353.2 912,353.2 914,352.3 916,351.4 918,350.5 920,349.6 922,348.7 924,347.9 926,347.2 928,346.5 930,345.7 932,345.1 934,345.3 936,345.6 938,345.8 940,346 942,346.2 944,346.5 946,346.7 948,346.8 950,346.8 952,346.8 954,346.8 956,346.8 958,346.8 960,346.8 962,346.8 964,346.8 966,346.8 968,346.8 970,346.8 972,350.8 974,354.7 976,355.2 978,355.7 980,356.2 982,356.7 984,357.2 986,357.7 988,358.2 990,358.7 992,359.2 994,359.7 996,360.6 998,361.5 1000,362.4 1002,363.3 1004,364.2 1006,365.1 1008,366.9 1010,368.9 1012,370.9 1014,372 1016,371.5 1018,370.9 1020,370.4 1022,369.8 1024,369.3 1026,369.1 1028,368.9 1030,368.7 1032,369.2 1034,369.7 1036,370.2 1038,370.7 1040,371.2 1042,371.9 1044,373 1046,374.1 1048,375.2 1050,376.3 1052,377.4 1054,378.3 1056,378.8 1058,379.4 1060,379.9 1062,380.1 1064,379.8 1066,379 1068,378.2 1070,377.4 1072,376.6 1074,375.8 1076,376.9 1078,378.1 1080,379.3 1082,380.5 1084,381.7 1086,383.2 1088,385 1090,386.8 1092,388.6 1094,390.4 1096,392.2 1098,393.2 1100,394.2 1102,395.2 1104,396.2 1106,397.2 1108,397.6 1110,397.2 1112,396.8 1114,396.4 1116,396 1118,395.6 1120,396.3 1122,397.1 1124,397.9 1126,398.7 1128,399.5 1130,399.8 1132,399.4 1134,399 1136,398.6 1138,398.2 1140,397.8 1142,398.4 1144,399.1 1146,399.7 1148,400.4 1150,401.1 1152,401 1154,400.9 1156,400.9 1158,400.8 1160,400.7 1162,400.7 1164,400.6 1166,400.5 1168,400.5 1170,400.9 1172,401.7 1174,402.5 1176,403.3 1178,404.1 1180,404.9 1182,405.4 1184,405.4 1186,405.4 1188,405.4 1190,405.4 1192,405.4 1194,405.4 1196,405.4 1198,405.4 1200,405.4 1202,405.4 1204,405.4 1206,405.4 1208,405.9 1210,406.5 1212,407 1214,407.6 1216,408.1 1218,408.7 1220,409.1 1222,408.9 1224,408.6 1226,408.3 1228,408 1230,407.7 1232,407.4 1234,407.1 1236,406.9 1238,406.8 1240,407 1242,407.3 1244,407.5 1246,407.8 1248,408 1250,408.4 1252,408.7 1254,409 1256,409.4 1258,409.7 1260,410 1262,410.4 1264,410.4 1266,410.4 1268,410.4 1270,410.4 1272,410.4 1274,410.4 1276,410.5 1278,410.6 1280,410.7 1282,410.8 1284,410.9 1286,411 1288,411.1 1290,411.2 1292,411.3 1294,411.4 1296,411.5 1298,411.6 1300,411.9 1300,425.6 1298,425.6 1296,425.6 1294,425.6 1292,425.6 1290,425.6 1288,425.6 1286,426.3 1284,427.5 1282,428.7 1280,429 1278,428.3 1276,427.7 1274,427 1272,426.3 1270,425.7 1268,425 1266,424.3 1264,423.3 1262,422.3 1260,421.3 1258,420.3 1256,419.3 1254,419.1 1252,418.8 1250,418.5 1248,418.2 1246,418.4 1244,418.9 1242,419.4 1240,419.9 1238,419.6 1236,419.3 1234,418.9 1232,418.6 1230,418.2 1228,417.8 1226,417.9 1224,423.8 1222,422.6 1220,421.3 1218,420.1 1216,418.8 1214,417.9 1212,417.3 1210,416.7 1208,416.1 1206,415.6 1204,415.3 1202,415 1200,414.7 1198,414.4 1196,414.1 1194,413.8 1192,413.5 1190,413.2 1188,412.9 1186,412.6 1184,416.6 1182,417.6 1180,417 1178,416.4 1176,415.8 1174,415.2 1172,414.6 1170,414.1 1168,413.7 1166,413.2 1164,412.8 1162,412.5 1160,412.7 1158,412.9 1156,413.1 1154,413.3 1152,413.5 1150,413.7 1148,413.1 1146,412.4 1144,411.7 1142,411 1140,410.4 1138,410.2 1136,410 1134,409.8 1132,409.6 1130,409.4 1128,409.2 1126,409 1124,408.8 1122,408.6 1120,408.4 1118,408.2 1116,407.8 1114,407.4 1112,407 1110,406.6 1108,406.2 1106,405.6 1104,404.8 1102,404 1100,403.2 1098,402.4 1096,401.6 1094,400.4 1092,399.2 1090,398 1088,396.8 1086,395.6 1084,394.6 1082,393.8 1080,393 1078,392.2 1076,391.4 1074,390.6 1072,390.2 1070,389.8 1068,389.4 1066,389 1064,388.6 1062,388.9 1060,389.8 1058,389.3 1056,388.8 1054,388.2 1052,387.5 1050,386.7 1048,385.9 1046,385.1 1044,384.3 1042,383.5 1040,382.8 1038,382.2 1036,381.5 1034,380.8 1032,380.2 1030,379.5 1028,378.8 1026,381.1 1024,384.6 1022,386.4 1020,385.2 1018,383.9 1016,382.6 1014,381.3 1012,380 1010,378.7 1008,377.4 1006,376.2 1004,375.6 1002,375 1000,374.4 998,373.8 996,373.2 994,372.6 992,372 990,371.4 988,370.8 986,370.2 984,369.6 982,369 980,368.4 978,367.8 976,367.2 974,366.6 972,366 970,365.4 968,364.8 966,364.2 964,363.6 962,363 960,362.4 958,362 956,361.8 954,361.6 952,361.4 950,361.2 948,361 946,360.8 944,360.6 942,360.4 940,360.2 938,360 936,359.8 934,359.8 932,359.8 930,359.8 928,360 926,361.5 924,363 922,363.7 920,364.2 918,364.7 916,365.2 914,365.7 912,366.2 910,365.7 908,365.2 906,364.6 904,364.1 902,363.5 900,370.4 898,370.7 896,370.9 894,371.2 892,371.2 890,370.9 888,370.6 886,370.3 884,370 882,369.7 880,369.4 878,369.1 876,368.8 874,368.5 872,368.2 870,367.2 868,365.8 866,364.3 864,362.9 862,361.4 860,360 858,358.5 856,357.1 854,355.7 852,354.2 850,353.1 848,352.1 846,351.1 844,350.1 842,349.1 840,348.1 838,347.1 836,346.1 834,345.1 832,344.1 830,343.1 828,342.1 826,341.1 824,340.1 822,339.1 820,338.1 818,337.1 816,336.1 814,335.1 812,334.1 810,333.1 808,332.1 806,331.1 804,330.2 802,329.4 800,328.6 798,327.8 796,327 794,326.2 792,325.4 790,324.6 788,323.8 786,323 784,322.2 782,321.5 780,320.9 778,320.3 776,319.7 774,319.1 772,318.5 770,317.9 768,317.3 766,316.7 764,316.1 762,315.5 760,313.8 758,314.1 756,314.4 754,314.7 752,316.1 750,318.8 748,321.5 746,323.7 744,324.1 742,324.5 740,324.9 738,325.3 736,325.7 734,326.7 732,327.9 730,329.1 728,330.3 726,331.5 724,332.5 722,332.5 720,332.5 718,332.5 716,332.5 714,332.5 712,332.5 710,332.5 708,332.5 706,332.5 704,332.5 702,332.5 700,332.3 698,332.1 696,331.9 694,331.7 692,331.5 690,331.3 688,331.1 686,330.9 684,330.7 682,330.5 680,330.3 678,330.1 676,329.9 674,329.7 672,329.5 670,329.3 668,329.1 666,328.9 664,328.7 662,328.5 660,328.3 658,328 656,327.6 654,327.2 652,326.8 650,326.4 648,326 646,325.6 644,325.2 642,324.8 640,324.4 638,324 636,323.6 634,323.3 632,323 630,322.6 628,322.3 626,322 624,321.6 622,321.2 620,320.7 618,320.2 616,319.7 614,319.2 612,318.9 610,318.6 608,318.3 606,318 604,317.7 602,317.4 600,317.1 598,316.8 596,316.5 594,316.2 592,315.9 590,315.7 588,315.5 586,315.3 584,315.1 582,314.9 580,314.7 578,314.5 576,314.3 574,314.1 572,313.9 570,313.7 568,313.5 566,313.3 564,313.1 562,312.9 560,312.7 558,312.5 556,312.3 554,312.1 552,311.9 550,311.7 548,311.5 546,311.2 544,310.9 542,310.6 540,310.3 538,310 536,309.7 534,309.4 532,309.1 530,308.8 528,308.5 526,308.3 524,308.4 522,308.5 520,308.6 518,308.7 516,308.8 514,308.9 512,309 510,309.1 508,309.2 506,309.3 504,309.4 502,309.2 500,309 498,308.8 496,308.6 494,308.4 492,308.2 490,308 488,307.8 486,307.6 484,307.4 482,307.1 480,306.4 478,305.6 476,304.8 474,304 472,303.2 470,302.4 468,302.6 466,302.7 464,302.9 462,303 460,303.2 458,303.4 456,303.5 454,303.3 452,303.1 450,302.9 448,302.7 446,302.5 444,302.3 442,302.1 440,301.9 438,301.7 436,301.5 434,301.2 432,300.6 430,300 428,299.4 426,298.8 424,298.2 422,297.6 420,297 418,296.4 416,295.8 414,295.2 412,294.6 410,294 408,293.4 406,292.8 404,292.2 402,291.6 400,291 398,290.4 396,289.8 394,289.2 392,288.6 390,288.1 388,287.9 386,287.7 384,287.5 382,287.3 380,287.1 378,286.9 376,286.7 374,286.5 372,286.3 370,286.1 368,285.9 366,286.4 364,286.9 362,287.4 360,287.9 358,288.1 356,288.1 354,288.1 352,288.1 350,288.1 348,288.1 346,288.1 344,288.1 342,288.1 340,288.1 338,288.1 336,288.1 334,288.8 332,290 330,291.2 328,292.4 326,293.6 324,294.7 322,294.6 320,294.5 318,294.4 316,294.3 314,294.2 312,294.1 310,294 308,293.9 306,293.8 304,293.7 302,293.6 300,293.8 298,294 296,294.2 294,294.4 292,294.6 290,294.8 288,295 286,295.2 284,295.4 282,295.6 280,295.8 278,296.7 276,297.6 274,298.5 272,299.3 270,300.2 268,301.1 266,302 264,302.8 262,303.4 260,302.9 258,302.5 256,302.1 254,301.6 252,301.2 250,300.7 248,300.3 246,299.8 244,299.4 242,298.7 240,297.4 238,296.2 236,294.9 234,293.7 232,292.4 230,291.2 228,289.9 226,288.7 224,287.1 222,285.3 220,283.5 218,281.7 216,279.9 214,278.1 212,277.2 210,276.3 208,275.4 206,274.5 204,273.6 202,272.7 200,271.8 198,270.9 196,270 194,269.1 192,268.2 190,267.6 188,267 186,266.4 184,265.7 182,265.1 180,264.5 178,263.9 176,263.2 174,262.7 172,262.7"/><path fill="#ff00ff" d="M170 247.9v22l-20 -11zM176.2 247.6v22l-20 -11zM183.7 246.4v22l-20 -11zM188.1 245.9v22l-20 -11zM196.1 246.5v22l-20 -11zM199.6 248.1v22l-20 -11zM205.2 250.1v22l-20 -11zM208.8 251.4v22l-20 -11zM212.7 253.9v22l-20 -11zM219.6 257.5v22l-20 -11zM222.9 258.7v22l-20 -11zM227.8 261.9v22l-20 -11zM231.8 269v22l-20 -11zM239 279.3v22l-20 -11zM242.4 279v22l-20 -11zM247.1 279.5v22l-20 -11zM254.4 278.9v22l-20 -11zM260.8 278.9v22l-20 -11zM267.3 278.5v22l-20 -11zM275.3 278.7v22l-20 -11zM278.4 278.4v22l-20 -11zM284.7 278.2v22l-20 -11zM291.5 277.5v22l-20 -11zM298.2 276.8v22l-20 -11zM304.8 275.8v22l-20 -11zM308.1 275.3v22l-20 -11zM311.6 275.6v22l-20 -11zM318.4 275v22l-20 -11zM324.5 274.1v22l-20 -11zM328.8 273.8v22l-20 -11zM331.8 273.3v22l-20 -11zM337.5 272.5v22l-20 -11zM341 271.9v22l-20 -11zM347.7 271v22l-20 -11zM352.4 270.5v22l-20 -11zM359.4 269.4v22l-20 -11zM362.9 269.2v22l-20 -11zM368.4 268.6v22l-20 -11zM371.9 268.4v22l-20 -11zM378.8 269v22l-20 -11zM384.6 269.2v22l-20 -11zM388.8 269.7v22l-20 -11zM396.6 272.1v22l-20 -11zM403 274.2v22l-20 -11zM407.7 275.9v22l-20 -11zM414.9 277.8v22l-20 -11zM419.8 278.3v22l-20 -11zM427.6 279.6v22l-20 -11zM432 280.6v22l-20 -11zM440 280.7v22l-20 -11zM443.3 280v22l-20 -11zM449.9 279.5v22l-20 -11zM454.4 280v22l-20 -11zM459.5 279.9v22l-20 -11zM465.7 279.9v22l-20 -11zM468.9 280.2v22l-20 -11zM473 281.9v22l-20 -11zM476.6 283.6v22l-20 -11zM483.3 285.1v22l-20 -11zM487.4 284.7v22l-20 -11zM492.9 290.5v22l-20 -11zM497.5 291.6v22l-20 -11zM501.7 292.8v22l-20 -11zM509.4 289.8v22l-20 -11zM514.9 286.8v22l-20 -11zM521.2 288v22l-20 -11zM527.7 288.9v22l-20 -11zM534.8 290.4v22l-20 -11zM539.1 290.8v22l-20 -11zM542.5 291.4v22l-20 -11zM547.8 291.6v22l-20 -11zM551.7 292.1v22l-20 -11zM554.8 292.9v22l-20 -11zM562.4 293.8v22l-20 -11zM568.5 294.2v22l-20 -11zM573.6 295.1v22l-20 -11zM577.3 294.9v22l-20 -11zM584.1 296.6v22l-20 -11zM589.7 297.5v22l-20 -11zM593.6 297.9v22l-20 -11zM601.5 298.9v22l-20 -11zM609.3 300.3v22l-20 -11zM616.9 300.9v22l-20 -11zM624 302v22l-20 -11zM629.7 302.5v22l-20 -11zM634.2 302.9v22l-20 -11zM640.5 303.7v22l-20 -11zM644.2 304.2v22l-20 -11zM650.3 305.5v22l-20 -11zM653.6 306.6v22l-20 -11zM656.7 306.6v22l-20 -11zM663.3 307.6v22l-20 -11zM668 308.5v22l-20 -11zM674.5 309.8v22l-20 -11zM681.4 311v22l-20 -11zM688.6 312.3v22l-20 -11zM694.6 313.2v22l-20 -11zM701.9 314.4v22l-20 -11zM708.2 313.5v22l-20 -11zM715.8 312.1v22l-20 -11zM723.3 309.8v22l-20 -11zM726.5 309.5v22l-20 -11zM730.8 307.5v22l-20 -11zM735.8 306.3v22l-20 -11zM740 304.5v22l-20 -11zM743.9 303.5v22l-20 -11zM751.3 300.4v22l-20 -11zM754.4 299.5v22l-20 -11zM758.3 297.9v22l-20 -11zM765.1 296.4v22l-20 -11zM769.2 298v22l-20 -11zM773.5 300.2v22l-20 -11zM781.4 303.9v22l-20 -11zM788.2 307.2v22l-20 -11zM793.4 310.3v22l-20 -11zM797.1 310.9v22l-20 -11zM801.5 311.5v22l-20 -11zM809.4 316.2v22l-20 -11zM816.3 320.4v22l-20 -11zM819.7 321.4v22l-20 -11zM826.2 324.4v22l-20 -11zM831.1 323.8v22l-20 -11zM837.7 325.1v22l-20 -11zM842.2 326.7v22l-20 -11zM845.8 326.9v22l-20 -11zM848.9 327.2v22l-20 -11zM853.4 327.1v22l-20 -11zM860.7 337.2v22l-20 -11zM868.1 344.8v22l-20 -11zM874.6 345.7v22l-20 -11zM881.3 344.5v22l-20 -11zM885.3 343.7v22l-20 -11zM890 344.2v22l-20 -11zM897.5 344.8v22l-20 -11zM905.5 345.1v22l-20 -11zM910.7 345.5v22l-20 -11zM917.6 343.3v22l-20 -11zM925.2 339.7v22l-20 -11zM933.2 337.6v22l-20 -11zM937.7 338.1v22l-20 -11zM944 338.6v22l-20 -11zM948.9 338.9v22l-20 -11zM954.2 338.9v22l-20 -11zM959.6 339.4v22l-20 -11zM963.9 339.1v22l-20 -11zM967 339.2v22l-20 -11zM973.9 347.4v22l-20 -11zM980.4 348.8v22l-20 -11zM987.6 350.8v22l-20 -11zM991.3 351.7v22l-20 -11zM995.5 353.1v22l-20 -11zM1001.5 355.1v22l-20 -11zM1009.2 360.4v22l-20 -11zM1014.5 364.6v22l-20 -11zM1018.5 363.1v22l-20 -11zM1024.5 362v22l-20 -11zM1032.3 361.5v22l-20 -11zM1039.6 363.2v22l-20 -11zM1047.1 367.4v22l-20 -11zM1052.2 369.8v22l-20 -11zM1056.5 371.4v22l-20 -11zM1063.8 372.6v22l-20 -11zM1070.8 369.2v22l-20 -11zM1078 370.9v22l-20 -11zM1083 373.4v22l-20 -11zM1087.4 376.7v22l-20 -11zM1091.6 380.5v22l-20 -11zM1099 386.1v22l-20 -11zM1106.6 389.9v22l-20 -11zM1111.4 389.6v22l-20 -11zM1118.8 387.9v22l-20 -11zM1123.7 389.8v22l-20 -11zM1128.9 392v22l-20 -11zM1134.8 391.3v22l-20 -11zM1138.9 390.7v22l-20 -11zM1143.2 391.2v22l-20 -11zM1147.5 392.7v22l-20 -11zM1151.8 393.5v22l-20 -11zM1157.4 392.8v22l-20 -11zM1160.9 392.9v22l-20 -11zM1167.8 393.3v22l-20 -11zM1171.7 393.9v22l-20 -11zM1176.9 396.5v22l-20 -11zM1183.1 397.8v22l-20 -11zM1186.8 397.6v22l-20 -11zM1191.9 397.4v22l-20 -11zM1197.7 397.6v22l-20 -11zM1203.4 397.7v22l-20 -11zM1210.9 399.1v22l-20 -11zM1217.8 401v22l-20 -11zM1221.4 401.4v22l-20 -11zM1228.6 400.3v22l-20 -11zM1234.3 399.1v22l-20 -11zM1240.7 399.3v22l-20 -11zM1244.5 400.3v22l-20 -11zM1249.9 400.4v22l-20 -11zM1256.4 402v22l-20 -11zM1263.4 402.8v22l-20 -11zM1270.4 403v22l-20 -11zM1274.5 402.7v22l-20 -11zM1281.7 403.1v22l-20 -11zM1287.5 403.5v22l-20 -11zM1293.8 404.1v22l-20 -11zM1301.1 404.9v22l-20 -11zM1306.1 408.3v22l-20 -11zM1310 409.8v22l-20 -11zM173 248.6v22l-20 -11zM180.4 250.1v22l-20 -11zM185 251.7v22l-20 -11zM188.6 253v22l-20 -11zM194.6 254.9v22l-20 -11zM201.8 258.1v22l-20 -11zM207.8 261.3v22l-20 -11zM211.5 262.8v22l-20 -11zM216.6 266.2v22l-20 -11zM220.9 269.6v22l-20 -11zM224 273.1v22l-20 -11zM231.8 278v22l-20 -11zM237.1 281.4v22l-20 -11zM240.8 283.3v22l-20 -11zM248.2 285.7v22l-20 -11zM256.1 288v22l-20 -11zM263.2 288.5v22l-20 -11zM267.5 286.8v22l-20 -11zM271.4 285.4v22l-20 -11zM277.1 282.4v22l-20 -11zM283 281.3v22l-20 -11zM290.4 280.1v22l-20 -11zM298.2 279.9v22l-20 -11zM305.8 279.4v22l-20 -11zM310.5 279.6v22l-20 -11zM316.4 279.6v22l-20 -11zM320 279.8v22l-20 -11zM325.6 279.4v22l-20 -11zM329 277.8v22l-20 -11zM332.5 275.3v22l-20 -11zM336.1 273.8v22l-20 -11zM340.6 273.3v22l-20 -11zM345.2 273.5v22l-20 -11zM351.7 273.8v22l-20 -11zM355.1 273.8v22l-20 -11zM358.6 273.5v22l-20 -11zM364.9 272.6v22l-20 -11zM371.3 271.5v22l-20 -11zM377.8 272.3v22l-20 -11zM384.4 273.1v22l-20 -11zM390.8 273.7v22l-20 -11zM396.5 275.6v22l-20 -11zM403.2 277.9v22l-20 -11zM406.6 278.7v22l-20 -11zM410.7 280.2v22l-20 -11zM417.4 282.2v22l-20 -11zM421.4 283.1v22l-20 -11zM427 284.4v22l-20 -11zM431.3 286.2v22l-20 -11zM436.5 287.1v22l-20 -11zM443.6 287.4v22l-20 -11zM449.9 288.2v22l-20 -11zM455.2 288.7v22l-20 -11zM459.5 288.7v22l-20 -11zM466.6 288.2v22l-20 -11zM472.9 289.1v22l-20 -11zM478.1 291.1v22l-20 -11zM485.4 293.1v22l-20 -11zM491.9 293.8v22l-20 -11zM499.8 294.7v22l-20 -11zM506.1 295.2v22l-20 -11zM513.6 294.6v22l-20 -11zM519.3 294v22l-20 -11zM525.9 293.8v22l-20 -11zM533.1 295.2v22l-20 -11zM536.6 295.2v22l-20 -11zM541.9 296.6v22l-20 -11zM547.9 296.8v22l-20 -11zM551.2 297.4v22l-20 -11zM558.2 298.1v22l-20 -11zM564.8 298.9v22l-20 -11zM572.4 299.3v22l-20 -11zM577.3 300.5v22l-20 -11zM582.6 301v22l-20 -11zM590.2 301.4v22l-20 -11zM595.3 302.2v22l-20 -11zM602.4 303.2v22l-20 -11zM607.5 303.8v22l-20 -11zM612.2 304.9v22l-20 -11zM616.6 305.1v22l-20 -11zM620.7 306.4v22l-20 -11zM625.8 307.9v22l-20 -11zM629.7 308v22l-20 -11zM636.8 309.4v22l-20 -11zM644.7 310.8v22l-20 -11zM648.2 311.5v22l-20 -11zM651.4 311.9v22l-20 -11zM654.4 313.2v22l-20 -11zM662.1 313.7v22l-20 -11zM665.5 314.4v22l-20 -11zM671.9 315.3v22l-20 -11zM676.4 315.6v22l-20 -11zM680.4 316v22l-20 -11zM684.6 316v22l-20 -11zM691.1 316.9v22l-20 -11zM694.2 317.6v22l-20 -11zM701.5 317.8v22l-20 -11zM707.3 318.1v22l-20 -11zM711.5 317.8v22l-20 -11zM715.5 318.4v22l-20 -11zM721.8 317.8v22l-20 -11zM728 315.6v22l-20 -11zM732.5 313.5v22l-20 -11zM737.2 311.1v22l-20 -11zM742.5 310.3v22l-20 -11zM750.1 304.3v22l-20 -11zM755.8 300.4v22l-20 -11zM763 301.1v22l-20 -11zM769.2 303.5v22l-20 -11zM775 304.8v22l-20 -11zM780.4 306.5v22l-20 -11zM786.8 309v22l-20 -11zM792.3 311.3v22l-20 -11zM798.9 313.4v22l-20 -11zM802.8 315.7v22l-20 -11zM807.5 317.6v22l-20 -11zM814.8 321.2v22l-20 -11zM819.8 323.5v22l-20 -11zM827 327.3v22l-20 -11zM834.7 331.3v22l-20 -11zM840.6 333.9v22l-20 -11zM844.1 335.5v22l-20 -11zM850.9 338.9v22l-20 -11zM857.2 343.6v22l-20 -11zM861.7 346.9v22l-20 -11zM869 352.5v22l-20 -11zM874.4 354.1v22l-20 -11zM877.7 354.5v22l-20 -11zM881 355.2v22l-20 -11zM885.2 355.4v22l-20 -11zM891.2 356.9v22l-20 -11zM898.3 356v22l-20 -11zM901.8 348.9v22l-20 -11zM904.9 349.6v22l-20 -11zM911 351.3v22l-20 -11zM916.1 351v22l-20 -11zM921.3 349.1v22l-20 -11zM928.4 345.4v22l-20 -11zM936 345.3v22l-20 -11zM943.8 345.8v22l-20 -11zM950.7 346.8v22l-20 -11zM953.7 347.1v22l-20 -11zM957.5 347.9v22l-20 -11zM963.4 349v22l-20 -11zM971.2 351.6v22l-20 -11zM974.6 352.5v22l-20 -11zM980.2 354.2v22l-20 -11zM985.1 355.2v22l-20 -11zM990.2 357v22l-20 -11zM994.5 358.2v22l-20 -11zM998.9 359.9v22l-20 -11zM1003.1 361.1v22l-20 -11zM1006.6 361.8v22l-20 -11zM1012.4 366.1v22l-20 -11zM1017.6 368.8v22l-20 -11zM1024.1 370v22l-20 -11zM1030.3 365.3v22l-20 -11zM1038.1 367.8v22l-20 -11zM1042.8 369.5v22l-20 -11zM1050.2 372.4v22l-20 -11zM1055.1 374.2v22l-20 -11zM1061.4 374.6v22l-20 -11zM1068.5 375.3v22l-20 -11zM1073.5 376.3v22l-20 -11zM1078.7 378.1v22l-20 -11zM1084.8 380.8v22l-20 -11zM1088.4 382.6v22l-20 -11zM1094.1 386v22l-20 -11zM1097.5 387.6v22l-20 -11zM1101.7 389.7v22l-20 -11zM1107.8 391.8v22l-20 -11zM1115.6 393.1v22l-20 -11zM1123.6 394.5v22l-20 -11zM1127.9 394.5v22l-20 -11zM1131.7 395v22l-20 -11zM1137.3 396.1v22l-20 -11zM1142.5 396.9v22l-20 -11zM1147.4 398.2v22l-20 -11zM1154.2 398.9v22l-20 -11zM1160.8 398.1v22l-20 -11zM1166.6 398.6v22l-20 -11zM1172.7 400.3v22l-20 -11zM1178.6 402.1v22l-20 -11zM1185 397.8v22l-20 -11zM1192.6 399.2v22l-20 -11zM1200.3 400.7v22l-20 -11zM1208.2 402v22l-20 -11zM1215.5 404v22l-20 -11zM1219.1 406v22l-20 -11zM1224.3 409.5v22l-20 -11zM1231.2 404.2v22l-20 -11zM1235.7 404.4v22l-20 -11zM1241.7 405.2v22l-20 -11zM1245 404.5v22l-20 -11zM1249 403.9v22l-20 -11zM1254 404.8v22l-20 -11zM1257.4 405.9v22l-20 -11zM1262.5 408v22l-20 -11zM1266.6 410v22l-20 -11zM1274 412.2v22l-20 -11zM1278.5 414.4v22l-20 -11zM1283.5 413.1v22l-20 -11zM1290.5 410.9v22l-20 -11zM1296.3 411.4v22l-20 -11zM1299.5 411.2v22l-20 -11zM1303.6 411.6v22l-20 -11zM1309.7 412.6v22l-20 -11zM1310 412.7v22l-20 -11z"/>
</g>
<g font-size="46"><text x="174.0" y="929" text-anchor="middle">0</text><text x="399.7" y="929" text-anchor="middle">100</text><text x="625.5" y="929" text-anchor="middle">200</text><text x="851.2" y="929" text-anchor="middle">300</text><text x="1077.0" y="929" text-anchor="middle">400</text><text x="1302.7" y="929" text-anchor="middle">500</text><text x="157" y="888.7" text-anchor="end">50</text><text x="157" y="776.4" text-anchor="end">60</text><text x="157" y="664.2" text-anchor="end">70</text><text x="157" y="551.9" text-anchor="end">80</text><text x="157" y="439.6" text-anchor="end">90</text><text x="157" y="327.4" text-anchor="end">100</text><text x="157" y="215.1" text-anchor="end">110</text><text x="157" y="102.8" text-anchor="end">120</text></g>
<text x="737" y="981" font-size="52.5" text-anchor="middle">Cycle number</text>
<text transform="translate(71.5,452.4) rotate(-90)" font-size="53" text-anchor="middle">Capacity (mAh g<tspan dy="-23" font-size="41">&#8722;1</tspan><tspan dy="23">)</tspan></text>
<rect x="227" y="535.20" width="100" height="7.2" rx="1.6" fill="#000000"/><rect x="267" y="529.80" width="18" height="18" fill="#000000"/><text transform="translate(335.5,552.00) scale(1,1.065)" font-size="44.5">Pure LNMO</text><rect x="227" y="591.35" width="100" height="7.2" rx="1.6" fill="#ff0000"/><circle cx="277" cy="594.95" r="10" fill="#ff0000"/><text transform="translate(335.5,608.40) scale(1,1.065)" font-size="44.5">LNMO-KCl0.02</text><rect x="227" y="647.50" width="100" height="7.2" rx="1.6" fill="#0000ff"/><polygon fill="#0000ff" points="264.8,657.40 288,657.40 288,654.40 283.2,647.20 276.5,637.10 270,647.20 264.8,654.40"/><text transform="translate(335.5,664.80) scale(1,1.065)" font-size="44.5">LNMO-KCl0.03</text><rect x="227" y="703.65" width="100" height="7.2" rx="1.6" fill="#008080"/><polygon fill="#008080" points="264.8,700.15 288,700.15 288,703.95 283.2,710.75 276.8,721.05 269.8,710.75 264.8,703.95"/><text transform="translate(335.5,721.20) scale(1,1.065)" font-size="44.5">LNMO-KF0.01</text><rect x="227" y="759.80" width="100" height="7.2" rx="1.6" fill="#ff00ff"/><polygon fill="#ff00ff" points="283.8,752.00 283.8,774.60 263.5,763.40"/><text transform="translate(335.5,777.60) scale(1,1.065)" font-size="44.5">LNMO-KF0.02</text>
</svg>
</body></html>
